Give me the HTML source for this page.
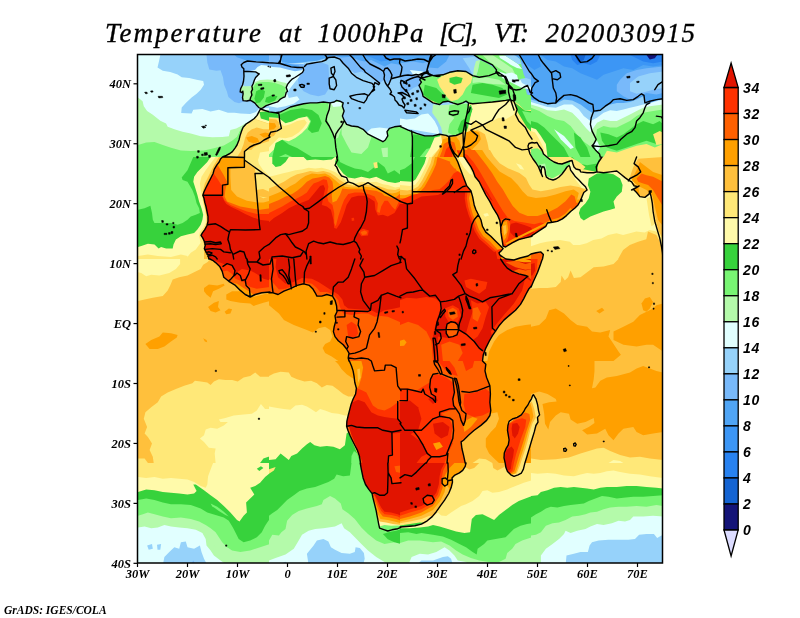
<!DOCTYPE html>
<html lang="en"><head><meta charset="utf-8"><title>Temperature at 1000hPa</title>
<style>html,body{margin:0;padding:0;background:#fff}body{width:800px;height:618px;overflow:hidden}svg{display:block;will-change:transform}.t{font-family:"Liberation Serif","DejaVu Serif",serif;font-style:italic;font-size:27px;fill:#000;stroke:#000;stroke-width:0.35px}.a{font-family:"Liberation Serif","DejaVu Serif",serif;font-style:italic;font-weight:bold;font-size:12.5px;fill:#000}.c{font-family:"Liberation Sans","DejaVu Sans",sans-serif;font-style:italic;font-weight:bold;font-size:14px;fill:#000;letter-spacing:0.8px}.g{font-family:"Liberation Serif","DejaVu Serif",serif;font-style:italic;font-weight:bold;font-size:11.5px;fill:#000}.b{fill:none;stroke:#000;stroke-width:1.4;stroke-linejoin:round;stroke-linecap:round}</style></head><body>
<svg width="800" height="618" viewBox="0 0 800 618">
<rect width="800" height="618" fill="#fff"/>
<text class="t" y="42"><tspan x="105" textLength="156" lengthAdjust="spacing">Temperature</tspan> <tspan x="279" textLength="22" lengthAdjust="spacing">at</tspan> <tspan x="317.5" textLength="106" lengthAdjust="spacing">1000hPa</tspan> <tspan x="439" textLength="38.5" lengthAdjust="spacing">[C],</tspan> <tspan x="494" textLength="35" lengthAdjust="spacing">VT:</tspan> <tspan x="545.5" textLength="149.5" lengthAdjust="spacing">2020030915</tspan></text>
<defs><clipPath id="mapclip"><rect x="137.5" y="54.5" width="525" height="508.5"/></clipPath></defs>
<g clip-path="url(#mapclip)">
<rect x="137.5" y="54.5" width="525" height="508.5" fill="#ffa000"/>
<defs><clipPath id="land"><path d="M260.4,109L258.9,111.9L257.1,115.4L254.3,118.5L250.2,121.3L246.1,124L243.1,127.3L241.5,131.3L240,135.9L239,140L237,145L235,148.1L232.4,151.6L229.9,153.5L226.3,155.3L223,156.7L222.5,157L220.5,159L219.2,162L216.9,164.9L214.2,169.4L213.1,173.5L210.6,178.5L208.1,183.4L206,187.5L204,191.7L202.8,195.3L204,198.3L204.8,202.4L206,206.5L207,211.5L208,216.4L208,221.4L207,225.5L204.8,229.6L202.4,232.9L201,235.4L202.7,237.9L204.3,241.2L205.3,245.3L204.3,248.6L206,251.9L208,255.2L208.9,259L209.9,259L212.6,260.3L215.6,262.6L219.7,266.4L222.2,271.4L223.8,277.2L228.8,281.3L235.4,285.4L240.3,290.4L245.2,294.5L250.2,297L255.2,294.5L261.8,292.8L270,292L269,292.8L273.1,292.8L278.1,294.5L283.9,291.2L290.4,288.7L297.1,285.4L303.6,283.8L309.4,285.4L312.7,288.7L315.2,292.8L316.9,296.1L321.8,296.1L326.8,294.5L332.5,296.1L335,300.3L336.6,306L337,311.8L335,315.9L335.8,320.9L334.2,326.7L333.4,331.6L335,336.6L338.3,340.7L343.2,344.8L346.6,349L349,353.1L348.2,358L349,361L349.4,361L351.5,366L353.1,370.9L354,375.9L354.8,382.5L356.4,388.2L355.6,394L353.1,399L351.2,403.9L349.9,408.9L348.2,415.5L346.9,421.2L346.6,426.2L347.9,430.3L349.9,435.3L352.3,440.2L354.8,445.2L357.3,450.1L359.4,455.9L360.6,463L360.2,463L361.4,469.6L363.1,477.9L365.5,484.5L368.8,489.4L372.1,493.5L372.9,497.7L374.6,504.3L376.2,510.9L377.1,515.8L377.9,519.9L378.7,524.1L379.6,528.2L384.5,529.8L387.8,531L391.9,529.8L397.7,528.7L401,527.4L400,527L406.6,526.5L414.9,525.7L421.4,524.1L427.2,520.8L432.2,516.6L436.3,511.7L440.4,505.9L444.6,500.1L448.7,493.5L451.1,487.8L452.5,482L452,477.9L454.4,475.4L459.4,472.9L462.7,470.4L465.2,466.3L466,463L465.2,463L463.5,455.1L461.9,448.5L461.1,441.9L463.5,440.2L468.5,435.3L474.2,430.3L480.9,425.4L486.6,420.4L489.9,415.5L490.8,410.5L489.9,402.3L490.4,394L489.9,385.8L486.6,377.5L485,370.9L485.8,364.3L482.5,361L482.5,361L483.3,354.7L485.8,348.1L489.1,341.5L492.4,335.7L495.7,330.8L499,325.8L503.9,320.1L509.7,315.1L515.5,310.2L520.5,304.4L523.8,298.6L526.7,292.8L529,288.7L531.2,286.2L531,287.1L533.5,281.3L537.6,272.2L540.1,265.6L541.7,260.7L542.5,259L542.5,259L543.4,254.4L540.9,251.9L536,252.7L531,254L528,256L520,258L514,260L505.9,259L502,256.5L501,256L499.5,254.4L499,252.7L501,251.1L503.1,248.6L500.6,246.1L495.7,241.2L490.8,236.2L485.8,232.1L482.5,226.3L480.9,219.7L478.4,214.8L475.9,209.8L474.2,204.9L472.6,196.6L470.9,190.8L466.8,185.9L465.2,181.8L462.7,175.2L460.2,168.6L457.8,162L455.3,157L454.9,157L452.5,152.4L450.3,147.8L449,142.5L448.7,136.7L446.2,135.4L439.6,134.2L433,135.9L424.8,135.9L416.5,133.4L408.2,130.1L400,126.3L401,126L394.4,126.8L389.4,128.4L387,131.7L387.8,135.9L385.3,140L382.9,141.7L377.9,139.2L372.9,136.7L368,134.2L363.1,129.3L358.1,126.8L351.5,126L346.6,124.3L344.1,120.2L342.4,116.1L344.1,111.1L342.4,106.2L343.2,102.9L339.9,101.2L336.6,100.4L334.2,102L330.1,102.9L323.4,102L316.9,102.9L310.2,102.9L303.6,103.7L297.1,105.3L290.4,107L285.5,109.5L280.6,111.9L275.6,112.8L269,111.9ZM435.5,55L433,56.7L429.7,61.6L428.1,66.6L426.4,72.3L423.1,74.5L420.6,78.1L419.8,79.8L421.4,82.2L419,85.5L420.6,88.8L422.3,93L423.1,96.3L428.1,99.6L433,102.9L439.6,104.5L442.9,102L447.9,101.2L452.8,102.9L457.8,104.5L462.7,102.9L466,101.2L468.5,102.9L468,107.8L466.8,114.4L465.2,121L464,127.6L463,132.6L456.1,135.5L449.5,136.2L450,143.5L451.5,148.3L454.4,153.2L458.1,157L460.7,152.4L462.4,148.3L463.2,146.1L464,150.7L464,157L464.4,157L467.6,162L470.9,166.9L473.4,171.9L475.1,176.8L479.2,181.8L482.5,188.4L485.8,195L489.9,201.6L493.2,208.2L497.4,214.8L499.8,220.5L500.6,226.3L501,232.9L502,239.5L503.1,246.1L505.6,247L512.2,242.8L518.8,239.5L525.4,237.9L532,236.2L531,236.2L536,232.9L540.9,229.6L545.9,226.3L547.5,223L552.5,222.2L557.4,221.4L562.4,218.9L566.5,215.6L570.6,211.5L574.7,208.2L578,204.9L580.5,200.7L582.1,196.6L583.8,192.5L587.1,190L585.5,186.7L582.1,183.4L578.9,180.1L575.5,176.8L573.1,173.5L570.6,170.2L569.8,166.9L569,165.5L567,167L565,170L562,174L559,177L556,179L553,180L549,178.8L546.5,177.2L545.5,174.5L545,170L544,167L542,166.8L541.2,170L541.5,174L542.5,176.5L540.5,172L538.5,167L536,163L533,159L530,154L528.5,149L528,146L529,143.5L532,142.5L534.5,143L537,142.5L539,146L542,150L543.5,154L547,157L550,159.5L554,162L558,163.5L562,164L566,162.5L570,161L572,160.5L573,164L574,167L576,169L580,170L580.5,171.9L587.1,172.7L593.7,172.7L597,171.9L603.6,172.7L610.2,171.9L616.8,171L620.9,174.3L625,177.6L628.4,180.1L631.6,181.8L634.1,185.9L638.2,186.7L633.3,189.2L636.6,192.5L639.9,196.6L644.9,197.4L649,194.1L649.8,191.7L651.1,196.6L652.3,203.2L653.1,211.5L654.8,221.4L657.2,229.6L659.7,237.9L661.4,246.1L662.5,252.7L663,259L670,262L670,48L435.5,48.0ZM533.4,394.7L535.9,398.8L537.5,404.4L538.6,410.9L539.6,414.9L537.5,417.4L538,422.2L535.9,425.5L534.3,431.9L531.8,440L529.4,448.1L527,456.2L525,462.7L523.4,469.1L521.3,473.2L518.1,474.8L514,476.4L510.8,474.8L507.5,471.6L505.9,467.5L505.1,462.7L504,457.8L504.3,453L505.9,448.9L508.3,444.9L509.1,440L508.3,435.2L507.5,430.3L507.9,425.5L509.1,421.4L512.4,419L517.2,417.4L521.3,414.9L523.7,411.7L525.3,408.5L527.8,405.2L529.4,402L531.5,398.8L532.6,395.5Z" clip-rule="nonzero"/></clipPath><clipPath id="t0"><rect x="138" y="55" width="132" height="102"/></clipPath><clipPath id="t1"><rect x="269" y="55" width="132" height="102"/></clipPath><clipPath id="t2"><rect x="400" y="55" width="132" height="102"/></clipPath><clipPath id="t3"><rect x="531" y="55" width="132" height="102"/></clipPath><clipPath id="t4"><rect x="138" y="157" width="132" height="102"/></clipPath><clipPath id="t5"><rect x="269" y="157" width="132" height="102"/></clipPath><clipPath id="t6"><rect x="400" y="157" width="132" height="102"/></clipPath><clipPath id="t7"><rect x="531" y="157" width="132" height="102"/></clipPath><clipPath id="t8"><rect x="138" y="259" width="132" height="102"/></clipPath><clipPath id="t9"><rect x="269" y="259" width="132" height="102"/></clipPath><clipPath id="t10"><rect x="400" y="259" width="132" height="102"/></clipPath><clipPath id="t11"><rect x="531" y="259" width="132" height="102"/></clipPath><clipPath id="t12"><rect x="138" y="361" width="132" height="102"/></clipPath><clipPath id="t13"><rect x="269" y="361" width="132" height="102"/></clipPath><clipPath id="t14"><rect x="400" y="361" width="132" height="102"/></clipPath><clipPath id="t15"><rect x="531" y="361" width="132" height="102"/></clipPath><clipPath id="t16"><rect x="138" y="463" width="132" height="102"/></clipPath><clipPath id="t17"><rect x="269" y="463" width="132" height="102"/></clipPath><clipPath id="t18"><rect x="400" y="463" width="132" height="102"/></clipPath><clipPath id="t19"><rect x="531" y="463" width="132" height="102"/></clipPath><clipPath id="t20"><rect x="455" y="150" width="132" height="102"/></clipPath><clipPath id="t21"><rect x="330" y="215" width="160" height="120"/></clipPath><clipPath id="t22"><rect x="0" y="0" width="800" height="618"/></clipPath><clipPath id="t23"><rect x="225" y="55" width="100" height="75"/></clipPath><clipPath id="t24"><rect x="480" y="385" width="80" height="100"/></clipPath><clipPath id="t25"><rect x="190" y="215" width="160" height="120"/></clipPath></defs>
<g clip-path="url(#t0)">
<rect x="137" y="54" width="134" height="104" fill="#e1ffff"/>
<polygon fill="#96d2fa" points="160.3,55 159.1,60.8 157.5,67.4 162.8,70.7 170.2,72 177.6,74.5 181.7,77.3 189.2,78.1 196.6,79.8 203.2,81.1 204,84.7 200.7,89.7 196.6,93.8 191.6,97.6 185.8,102.9 181.7,107.5 181.2,113.1 191.6,113.6 193.3,109.8 202.4,109.1 210.6,111.4 218.9,109.8 227.9,112.8 234.5,112.8 240.3,113.6 250.2,114.1 256,111.9 259.3,108.6 270,107.8 270,55.0"/>
<polygon fill="#78b9fa" points="206.5,55 207.3,62.4 209.3,69.5 216.4,70.7 220.5,70.2 223,77.3 224.1,84.7 226.8,91.3 228.4,97.1 234.5,102 239,103.2 244.4,101.2 244.4,55.0"/>
<polygon fill="#50a5f5" points="234.5,55 237,57.3 243.6,59.6 246.9,61.3 270,61.6 270,55.0"/>
<polygon fill="#b4faaa" points="138,97.6 142.6,101.2 143.8,106.2 147.1,111.1 152.8,114.7 160.3,120.7 166.1,123.5 167.7,126.8 175.1,129.6 182.6,131.7 190.8,133.4 200.7,136.2 212.2,137.2 222.2,137 228.8,136.2 230.4,130.1 236.2,128.4 241.1,126 245.2,123.5 251.9,120.2 256.8,115.2 260.9,110.3 270,110.3 270,157 138,157.0"/>
<polygon fill="#78f573" points="138,145 146.2,142.5 154.5,142.1 162.8,145 171,147.8 180.9,150.4 190.8,151.1 204,150.4 213.9,148.3 223.8,145.4 232.1,140.8 237,136.7 241.1,128.4 246.9,124.3 253.5,119.7 257.6,114.7 260.9,110.3 270,110.3 270,157 138,157.0"/>
<polygon fill="#37d23c" points="234.5,157 236.2,149.9 237.8,145 240,144.1 241.6,157.0"/>
<polygon fill="#37d23c" points="253.5,121 256,116.9 259.3,112.8 263.4,111.1 263.4,121.0"/>
</g>
<g clip-path="url(#t1)">
<rect x="268" y="54" width="134" height="104" fill="#96d2fa"/>
<polygon fill="#78b9fa" points="298.7,64.9 306.9,64.1 321.8,62.4 328.4,64.9 329.2,78.1 329.2,88 325.1,94.6 318.5,96.3 310.2,94.6 303.6,91.3 298.7,84.7 297.1,74.8"/>
<polygon fill="#78b9fa" points="323.4,55 401,55 401,76.5 394.4,78.1 387.8,83.1 384.5,79.8 379.6,83.1 374.6,79.8 368,74.8 361.4,71.5 354.8,73.2 348.2,68.2 341.6,63.3 338.3,58.3 328.4,57.5"/>
<polygon fill="#78b9fa" points="269,55 282.2,55 281.4,62.4 269,63.3"/>
<polygon fill="#50a5f5" points="278.9,55 401,55 401,64.9 391.1,63.3 384.5,66.6 377.9,63.3 371.3,60 364.7,61.6 358.1,60 351.5,56.7 341.6,57.5 335,55.8 325.1,58.3 316.9,60.8 308.6,61.6 302,62.4 292.1,63.3 282.2,62.4 280.6,58.3"/>
<polygon fill="#3c96f5" points="361.4,55 401,55 401,60.8 391.1,60 381.2,61.6 371.3,57.5"/>
<polygon fill="#e1ffff" points="284.7,71.5 290.4,69.9 298.7,71.5 299.5,76.5 295.4,81.4 290.4,88 287.1,93 288.8,97.9 297.1,96.3 299.5,99.6 293.8,103.7 285.5,106.2 277.2,107.8 269,106.2 269,102.9 278.9,99.6 285.5,92.1 287.1,86.4"/>
<polygon fill="#e1ffff" points="366.4,132.6 371.3,128.4 379.6,127.6 387.8,128.4 389.4,132.6 387,137.5 382.9,142.5 376.2,139.2 369.6,135.9"/>
<polygon fill="#e1ffff" points="269,63.3 303.6,63.3 304.5,69.9 295.4,78.1 287.1,87.2 285.5,92.1 275.6,100.4 269,102.9"/>
<polygon fill="#96d2fa" points="269,63.3 282.2,63.3 285.5,68.2 278.9,71.5 269,70.7"/>
<polygon fill="#78b9fa" points="278.9,62.4 303.6,64.1 304.5,67.4 293.8,66.6 283.9,65.7"/>
<polygon fill="#b4faaa" points="269,78.1 275.6,76.5 282.2,79.8 285.5,86.4 284.7,93 275.6,100.4 269,102.9"/>
<polygon fill="#78f573" points="269,81.4 275.6,80.6 281.4,83.9 283,91.3 275.6,98.7 269,101.2"/>
<polygon fill="#37d23c" points="269,93 273.9,92.1 277.2,95.4 273.9,98.7 269,99.6"/>
</g>
<g clip-path="url(#t2)">
<rect x="399" y="54" width="134" height="104" fill="#96d2fa"/>
<polygon fill="#e1ffff" points="400,118.5 406.6,119.4 414.9,118.5 421.4,114.4 428.1,113.6 431.4,116.9 434.6,121 437.9,127.6 439.6,134.2 400,127.6"/>
<polygon fill="#78b9fa" points="400,71.5 409.9,73.2 419.8,78.1 419,85.5 413.2,88 406.6,93 400,96.3"/>
<polygon fill="#b4faaa" points="433,104.5 439.6,105.3 449.5,104.5 466,102.9 469.3,104.5 469.3,134.2 442.9,135.9 441.2,127.6 437.1,119.4 432.2,112.8"/>
<polygon fill="#78f573" points="449.5,105.3 467.6,103.7 468.5,134.2 454.4,135.9 447.9,132.6 449.5,124.3 454.4,117.7 447.9,114.4"/>
<polygon fill="#37d23c" points="461.1,121 466,117.7 468.5,121 465.2,132.6 459.4,134.2 457.8,129.3"/>
<polygon fill="#ffe878" points="522.1,137.5 532,137.5 532,157 522.1,157.0"/>
<polygon fill="#ffa000" points="447.9,138.3 463.5,134.2 465.2,157 449.5,157.0"/>
<polygon fill="#78b9fa" points="400,55 435.5,55 429.7,61.6 427.2,71.5 420.6,77.3 409.9,73.2 400,71.5"/>
<polygon fill="#50a5f5" points="400,55 435.5,55 431.4,60 423.1,63.3 413.2,61.6 400,63.3"/>
<polygon fill="#e1ffff" points="409.9,69.9 423.1,71.5 421.4,76.5 413.2,74.8"/>
</g>
<g clip-path="url(#t3)">
<polygon fill="#ffe878" points="529.4,137.5 540.9,137.5 540.9,149.9 529.4,149.9"/>
<polygon fill="#78f573" points="529.4,149.1 537.6,148.3 545.9,154 549.1,157 529.4,157.0"/>
</g>
<g clip-path="url(#t4)">
<rect x="137" y="156" width="134" height="104" fill="#37d23c"/>
<polygon fill="#78f573" points="138,157 193.3,157 187.5,170.2 181.7,177.6 182.6,180.1 187.5,181.8 192.4,190 194.9,196.6 196.6,203.2 199.1,208.2 199.9,213.1 195.8,214.8 190.8,216.4 187.5,219.7 182.6,223 177.6,224.7 171,223 161.1,223 154.5,223 152.8,219.7 152,213.1 150.4,205.7 144.6,208.2 138,209.8"/>
<polygon fill="#fffaaa" points="210.6,157 207.3,162 202.4,166.9 197.4,171.9 194.1,176.8 193.3,181.8 194.9,186.7 197.4,195 199.1,201.6 201.5,208.2 203.2,214.8 202.4,219.7 200.7,224.7 197.4,229.6 194.1,232.9 187.5,234.6 180.9,236.2 175.9,239.5 173.5,244.5 172.7,248.6 166.1,248.6 161.1,247 158.6,248.6 154.5,244.5 147.9,243.7 141.3,246.1 138,247 138,259 270,259 270,157.0"/>
<polygon fill="#ffe878" points="215.6,157 210.6,163.6 205.7,170.2 201.5,176.8 199.9,183.4 200.7,190 202.4,196.6 203.2,203.2 204.8,209.8 206,216.4 205.7,223 203.2,228 199.9,232.1 199.1,236.2 200.7,242.8 195.8,249.4 190.8,252.7 185.8,259 270,259 270,157.0"/>
<polygon fill="#ffe878" points="138,256 147.9,254.4 157.8,256 171,256.9 180.9,254.4 187.5,256 187.5,259 138,259.0"/>
<polygon fill="#ffc03c" points="218.9,157 213.9,165.3 208.9,175.2 204.8,183.4 203.2,190 202.7,196.6 204,203.2 205.7,211.5 207,219.7 206.3,224.7 204,229.6 201.5,234.6 203.2,239.5 204,246.1 204,259 270,259 270,157.0"/>
</g>
<g clip-path="url(#t6)">
<rect x="399" y="156" width="134" height="104" fill="#ffe878"/>
<polygon fill="#fffaaa" points="457.8,157 464.4,157 469.3,166.9 472.6,175.2 469.3,173.5 463.5,166.9"/>
<polygon fill="#fffaaa" points="483.3,213.9 487.4,213.1 489.1,215.6 485,216.7"/>
</g>
<g clip-path="url(#t7)">
<rect x="530" y="156" width="134" height="104" fill="#fffaaa"/>
<polygon fill="#37d23c" points="588.8,178.5 597,173.5 605.2,172.7 613.5,174.3 620.1,178.5 622.6,185.1 621.8,191.7 616.8,196.6 613.5,201.6 615.1,208.2 610.2,209.8 603.6,211.5 597,213.9 590.4,216.4 583.8,220.5 580.5,218.1 578.9,213.1 580.5,208.2 585.5,203.2 588.8,198.3 590.4,191.7 587.9,185.1"/>
<polygon fill="#78f573" points="531,157 570.6,157 569.8,165.3 564,171.9 552.5,178.5 544.2,175.2 537.6,170.2 531,163.6"/>
<polygon fill="#b4faaa" points="540.1,164.4 545,163.6 546.7,170.2 543.4,173.5 540.9,169.4"/>
<polygon fill="#ffe878" points="646.5,198.3 651.5,196.6 653.9,211.5 656.4,223 651.5,226.3 649,214.8"/>
<polygon fill="#ffe878" points="530,246.6 539.9,243.3 546.7,241.7 559.9,240 569.9,241.7 573.2,245 579.8,245 586.6,243.3 593.2,240 601.5,238.4 608.2,234.9 616.5,233.3 623.1,234.9 629.8,233.3 636.4,231.6 644.7,232.4 649.6,230 656.4,231.6 663,229.6 663,259 530,259.0"/>
<polygon fill="#ffc03c" points="618.1,259 623.1,249.9 629.8,245 638.1,241.7 646.3,239.2 648,231.6 656.4,234.9 661.4,245 663,246.1 663,259.0"/>
</g>
<g clip-path="url(#t8)">
<rect x="137" y="258" width="134" height="104" fill="#ffc03c"/>
<polygon fill="#ffe878" points="138,259 210.6,259 207.3,262.3 203.2,264.8 200.7,268.9 194.1,272.2 187.5,275.5 179.2,277.2 172.7,279.6 170.2,285.4 167.7,290.4 162.8,296.1 152.8,297.8 144.6,299.4 138,301.1"/>
<polygon fill="#fffaaa" points="138,259 180.1,259 180.1,264 175.9,268.9 169.3,273 159.4,275.5 151.2,274.7 146.2,276.3 141.3,273 138,272.2"/>
<polygon fill="#ffa000" points="204,287.9 208.9,284.6 217.2,285.4 223.8,283.8 224.6,285.4 218.9,288.7 213.1,291.2 210.6,297.8 206.5,294.5 204,291.2"/>
<polygon fill="#ffa000" points="226.3,294.5 232.1,291.2 240.3,291.2 246.9,297 253.5,297 270,292.8 270,301.1 263.4,302.7 253.5,306 250.2,303.6 240.3,302.7 230.4,301.1 226.3,299.4"/>
<polygon fill="#ffa000" points="208.1,306.9 213.9,302.7 218.9,301.1 218,306.9 220.5,310.2 215.6,312.6 210.6,311.0"/>
<polygon fill="#ffa000" points="224.6,311.8 228.8,308.5 232.1,309.3 230.4,313.5 226.3,314.3"/>
<polygon fill="#ffa000" points="145.4,344 151.2,339.9 159.4,336.6 162.8,332.4 171,333.3 177.6,334.9 176.8,337.4 171,341.5 164.4,346.5 157.8,349 149.6,349.0"/>
<polygon fill="#ffa000" points="203.2,338.2 206.5,339.9 207.3,342.3 204.8,341.5"/>
</g>
<g clip-path="url(#t9)">
<rect x="268" y="258" width="134" height="104" fill="#ffa000"/>
<polygon fill="#ffc03c" points="269,305.2 278.9,313.5 283.9,320.1 293.8,325 306.9,330 312.7,332.4 318.5,328.3 325.1,326.7 330.1,330 332.5,336.6 330.1,341.5 325.1,344 322.6,348.1 325.1,353.1 331.7,356.4 338.3,361 269,361.0"/>
</g>
<g clip-path="url(#t10)">
<rect x="399" y="258" width="134" height="104" fill="#ffc03c"/>
<polygon fill="#ffa000" points="487.4,361 489.1,351.4 494.1,341.5 499,334.9 507.2,330 515.5,326.7 525.4,325 532,324.2 532,361.0"/>
</g>
<g clip-path="url(#t11)">
<rect x="530" y="258" width="134" height="104" fill="#ffc03c"/>
<polygon fill="#ffe878" points="531,259 618.5,259 613.5,264 603.6,266.4 593.7,267.3 587.1,272.2 580.5,277.2 573.9,278 570.6,270.6 568.1,277.2 564.8,280.5 561.5,275.5 560.7,282.1 555.8,287.1 547.5,287.9 539.2,287.9 531,288.7"/>
<polygon fill="#ffa000" points="531,326.7 539.2,325 545.9,318.4 549.1,310.2 555.8,308.5 564,313.5 570.6,320.1 577.2,325 587.1,326.7 592,331.6 600.3,332.4 610.2,330 608.5,336.6 611.9,341.5 618.5,351.4 620.9,354.7 613.5,361 531,361.0"/>
<polygon fill="#ffa000" points="613.5,331.6 623.4,326.7 633.3,321.7 639.9,315.1 646.5,311.8 653.1,308.5 656.4,305.2 663,303.6 663,351.4 653.1,344.8 646.5,344.8 636.6,346.5 623.4,344.8 613.5,339.9"/>
<polygon fill="#ffa000" points="596.2,311 602,307.7 604.4,310.2 599.5,313.5"/>
<polygon fill="#ffa000" points="641.5,303.6 644.9,298.6 649.8,297 653.1,301.9 649.8,308.5 646.5,311.8 643.2,310.2"/>
</g>
<g clip-path="url(#t12)">
<rect x="137" y="360" width="134" height="104" fill="#ffc03c"/>
<polygon fill="#ffe878" points="153.7,463 152.8,456.7 149.6,450.1 152,443.5 147.9,436.9 144.6,433.6 147.1,427 143.8,418.8 145.4,412.2 151.2,407.2 157.8,402.3 161.1,396.5 167.7,392.4 175.9,389.1 184.2,385.8 192.4,383.3 194.9,380.8 200.7,381.6 207.3,382.5 210.6,384.9 213.9,381.6 218.9,379.2 225.4,380 232.1,380 237.8,381.6 243.6,377.5 250.2,375.9 255.2,372.6 260.1,376.7 270,376.7 270,463.0"/>
<polygon fill="#ffe878" points="138,458.4 144.6,458.4 147.9,463 138,463.0"/>
<polygon fill="#fffaaa" points="215.6,463 214.7,453.4 215.6,448.5 208.9,447.7 204,441.9 199.9,438.6 204,435.3 205.7,429.5 210.6,427.8 217.2,428.7 223.8,425.4 227.9,422.1 220.5,422.1 218.9,419.6 225.4,417.9 233.7,415.5 243.6,414.6 251.9,413.8 256.8,410.5 260.9,403.9 265.1,408.9 270,408.9 270,463.0"/>
<polygon fill="#37d23c" points="260.1,463 263.4,458.4 268.4,456.7 270,456.7 270,463.0"/>
</g>
<g clip-path="url(#t13)">
<rect x="268" y="360" width="134" height="104" fill="#ffc03c"/>
<polygon fill="#ffe878" points="269,375.9 273.9,373.4 280.6,371.7 288.8,372.6 291.3,376.7 297.1,379.2 304.5,381.6 311.1,380.8 316.9,383.3 321.8,387.4 326.8,384.9 332.5,385.8 338.3,389.9 343.2,394 348.2,396.5 356.4,396.5 356.4,463 269,463.0"/>
<polygon fill="#fffaaa" points="269,406.4 277.2,408 283.9,408.9 290.4,409.7 295.4,405.6 302,404.7 306.9,406.4 311.1,408.9 316,412.2 320.1,408.9 325.1,410.5 331.7,413 338.3,413.8 344.9,415.5 351.5,415.5 351.5,463 269,463.0"/>
<polygon fill="#37d23c" points="269,460 275.6,459.2 280.6,453.4 284.7,456.7 288.8,460 291.3,455.9 297.1,453.4 302,448.5 306.9,444.3 310.2,441.9 314.4,445.2 320.1,446.8 326.8,446 333.4,446.8 339.9,449.3 344.9,445.2 346.6,433.6 348.2,432 361.4,463 269,463.0"/>
<polygon fill="#78f573" points="351.2,463 351.5,455.9 354,451 357.3,453.4 359.8,463.0"/>
<polygon fill="#ffa000" points="335,361 338.3,364.3 341.6,369.3 346.6,374.2 351.5,377.5 354.8,379.2 356.4,361.0"/>
</g>
<g clip-path="url(#t14)">
<rect x="399" y="360" width="134" height="104" fill="#ffa000"/>
<polygon fill="#ffc03c" points="489.9,413.8 497.4,412.2 499,418.8 495.7,427 490.8,432 485.8,438.6 485.8,446.8 489.1,453.4 494.1,458.4 499,463 461.1,463 459.4,441.9 474.2,430.3 486.6,420.4"/>
<polygon fill="#ffe878" points="472.6,463 479.2,458.4 485.8,459.2 492.4,463.0"/>
</g>
<g clip-path="url(#t15)">
<rect x="530" y="360" width="134" height="104" fill="#ffa000"/>
<polygon fill="#ffc03c" points="594.5,361 663,361 663,372.6 656.4,370.9 649.8,368.4 643.2,366 636.6,368.4 630,372.6 623.4,374.2 616.8,375.9 606.9,377.5 600.3,380.8 595.4,387.4 592,388.2 593.7,379.2 594.5,370.9"/>
<polygon fill="#ffc03c" points="531,394 539.2,391.5 547.5,394 555.8,399 556.6,401.4 549.1,402.3 542.5,403.9 544.2,413.8 545,423.7 548.3,429.5 550,422.1 555.8,415.5 560.7,412.2 569,413.8 570.6,419.6 577.2,423.7 585.5,422.1 593.7,417.9 594.5,422.9 588.8,427 582.1,430.3 587.1,434.4 597,433.6 605.2,428.7 608.5,435.3 613.5,440.2 618.5,433.6 623.4,428.7 633.3,427 636.6,432 643.2,435.3 653.1,433.6 663,432 663,463 531,463.0"/>
<polygon fill="#ffe878" points="531,458.4 540.9,460 555.8,459.2 569,457.6 580.5,453.4 588.8,451 597,448.5 603.6,447.7 610.2,451 620.1,455.1 630,457.6 639.9,456.7 649.8,458.4 663,460 663,463 531,463.0"/>
<polygon fill="#fffaaa" points="608.5,463 613.5,460 620.1,460.9 623.4,463.0"/>
</g>
<g clip-path="url(#t16)">
<rect x="137" y="462" width="134" height="104" fill="#fffaaa"/>
<polygon fill="#ffe878" points="138,463 213.1,463 210.6,469.6 208.1,476.2 207.3,484.5 205.7,487.8 200.7,486.1 194.1,482 187.5,479.5 179.2,478.7 171,477.9 162.8,478.7 154.5,477 146.2,477.9 138,477.0"/>
<polygon fill="#37d23c" points="138,491.9 146.2,489.4 154.5,490.2 162.8,491.9 171,492.7 179.2,493.5 187.5,494.4 194.1,493.5 196.6,491.1 193.3,484.5 195.8,484.5 204,490.2 210.6,495.2 217.2,500.1 223.8,505.9 230.4,512.5 237,519.9 239.5,521.6 243.6,515.8 246.9,512.5 246.1,502.6 250.2,498.5 254.3,494.4 250.2,487.8 255.2,486.1 260.1,482.8 265.1,477 270,472.9 270,565 138,565.0"/>
<polygon fill="#37d23c" points="256.8,468.8 260.9,466.3 263.4,468 259.3,470.9"/>
<polygon fill="#78f573" points="138,500.1 146.2,498.5 154.5,500.1 162.8,502.6 171,504.3 180.9,504.3 190.8,505.1 200.7,508.4 207.3,512.5 215.6,515 223.8,517.5 228.8,520.8 232.9,527.4 236.2,534 238.7,538.9 243.6,542.2 250.2,540.6 256.8,537.3 261.8,532.3 265.1,525.7 268.4,520.8 270,519.1 270,565 138,565.0"/>
<polygon fill="#78f573" points="210.6,503.4 217.2,506.7 223.8,511.7 228.8,516.6 225.4,515 218.9,510.9 212.2,506.2"/>
<polygon fill="#b4faaa" points="138,515.8 142.9,514.2 147.9,512.5 154.5,514.2 162.8,516.6 171,518.3 180.9,517.5 190.8,519.1 199.1,521.6 205.7,524.9 210.6,528.2 215.6,532.3 218.9,537.3 222.2,542.2 227.1,547.2 232.1,550.5 240.3,552.1 250.2,550.5 260.1,547.2 270,543.9 270,565 138,565.0"/>
<polygon fill="#e1ffff" points="138,527.4 144.6,526.5 151.2,528.2 157.8,527.4 164.4,524.9 171,526.5 179.2,527.4 187.5,528.2 195.8,529.8 202.4,533.1 205.7,538.9 206.5,545.5 210.6,550.5 213.9,555.4 220.5,560.4 227.1,565 138,565.0"/>
<polygon fill="#b4faaa" points="213.1,545.5 215.6,546.3 215.6,549.7 213.6,548.8"/>
<polygon fill="#96d2fa" points="162.8,565 164.4,557.1 169.3,552.1 174.3,547.2 179.2,548.8 180.9,542.2 185.8,541.4 187.5,547.2 194.1,548.8 199.9,545.5 201.5,552.1 204,558.7 207.3,565.0"/>
<polygon fill="#96d2fa" points="147.1,545.5 152,543.9 152.8,548.8 148.7,549.7"/>
<polygon fill="#96d2fa" points="157,544.7 161.1,543.9 160.3,549.7 157.5,549.7"/>
<polygon fill="#78b9fa" points="190.8,565 193.3,560.4 195.8,565.0"/>
</g>
<g clip-path="url(#t17)">
<rect x="268" y="462" width="134" height="104" fill="#78f573"/>
<polygon fill="#37d23c" points="269,463 351.5,463 350.7,469.6 349.9,475.4 343.2,476.2 336.6,474.6 334.2,478.7 328.4,482 321.8,484.5 315.2,486.9 306.9,488.6 299.5,491.1 293.8,495.2 287.1,500.1 282.2,505.1 277.2,510 272.3,513.3 269,515.8"/>
<polygon fill="#ffe878" points="269,469.3 275.6,467.1 273.9,470.4 269,473.7"/>
<polygon fill="#b4faaa" points="269,540.6 272.3,534.8 278.9,535.6 281.4,532.3 285.5,529 287.1,520.8 292.1,515 298.7,510.9 306.9,508.4 316.9,505.9 321.8,504.3 323.4,500.1 330.1,496 335,498.5 340.8,503.4 342.4,509.2 348.2,513.3 354.8,519.1 361.4,527.4 368,534 376.2,540.6 384.5,543.9 394.4,542.2 401,539.7 401,565 269,565.0"/>
<polygon fill="#e1ffff" points="269,560.4 275.6,557.9 285.5,554.6 293.8,548.8 298.7,540.6 302,534.8 308.6,530.7 315.2,529 323.4,528.2 335,526.5 341.6,523.2 344.1,528.2 349.9,532.3 354.8,537.3 361.4,543.9 368,550.5 376.2,557.1 384.5,562 386.1,565 269,565.0"/>
<polygon fill="#96d2fa" points="306.9,553.8 313.6,545.5 316.9,540.6 323.4,538.9 328.4,541.4 330.9,547.2 335,549.7 341.6,553 349.9,553.8 354.8,552.1 355.6,547.2 359.8,548 363.9,553 364.7,558.7 363.1,565 308.6,565.0"/>
<polygon fill="#96d2fa" points="278.9,565 285.5,561.7 288.8,565.0"/>
<polygon fill="#37d23c" points="382.9,534 389.4,532 396.1,530.7 401,529.3 401,543.9 394.4,542.2 387.8,539.3"/>
</g>
<g clip-path="url(#t18)">
<rect x="399" y="462" width="134" height="104" fill="#ffe878"/>
<polygon fill="#ffc03c" points="466,463 465.2,467.1 469.3,469.6 474.2,468 479.2,463.0"/>
<polygon fill="#ffc03c" points="492.4,463 493.2,468 497.4,470.4 502.3,468 505.6,466.3 505.6,463.0"/>
<polygon fill="#fffaaa" points="437.9,512.5 441.2,515.5 446.2,516.1 451.1,512.5 456.1,509.2 461.1,505.9 466,504.3 472.6,501 479.2,496 482.5,491.1 487.4,490.2 492.4,492.7 499,491.9 507.2,489.4 515.5,486.1 523.8,482.8 532,480.3 532,565 400,565 400,525.7 424.8,524.1"/>
<polygon fill="#37d23c" points="400,528.2 409.9,528.2 419.8,527.4 428.1,526.5 433,524.9 439.6,526.5 447.9,529 456.1,531.5 464.4,533.1 470.1,532.3 470.9,525.7 471.8,519.1 475.9,515 482.5,514.2 489.1,517.5 494.1,519.9 499,515 505.6,510 512.2,505.1 518.8,501 525.4,498.5 532,496 532,565 400,565.0"/>
<polygon fill="#78f573" points="400,533.1 408.2,532.3 416.5,534 421.4,533.1 433,534.8 442.9,536.4 451.1,539.7 459.4,543.9 466,547.2 472.6,552.1 476.7,554.6 477.6,548.8 484.1,543.9 487.4,540.6 495.7,538.9 505.6,537.3 508.9,534 513.9,529 520.5,525.7 527,524.1 532,523.2 532,565 400,565.0"/>
<polygon fill="#b4faaa" points="400,543 408.2,540.6 419.8,540.6 433,542.2 441.2,541.4 449.5,545.5 456.1,550.5 462.7,554.6 470.9,557.9 479.2,560.4 489.1,562 499,562 505.6,558.7 507.2,553 512.2,548.8 515.5,543.9 522.1,540.6 532,537.3 532,565 400,565.0"/>
<polygon fill="#e1ffff" points="408.2,565 411.6,557.1 419.8,553.8 428.1,554.6 436.3,552.1 444.6,547.2 449.5,550.5 454.4,555.4 457.8,560.4 466,562 469.3,565.0"/>
<polygon fill="#96d2fa" points="416.5,565 421.4,560.4 433,560.4 442.9,557.1 447.9,556.3 451.1,558.7 452.8,565.0"/>
</g>
<g clip-path="url(#t19)">
<rect x="530" y="462" width="134" height="104" fill="#ffe878"/>
<polygon fill="#fffaaa" points="531,472.9 537.6,473.7 547.5,472.9 555.8,473.7 564,475.4 573.9,476.2 580.5,474.6 587.1,472.9 593.7,473.7 600.3,472.9 606.9,471.3 613.5,470.4 620.1,472.1 630,473.7 639.9,474.6 649.8,476.2 663,477.9 663,565 531,565.0"/>
<polygon fill="#37d23c" points="531,496 537.6,495.2 540.9,491.9 547.5,490.2 554.1,487.8 560.7,486.9 567.3,487.8 573.9,486.9 580.5,487.8 587.1,488.6 593.7,489.4 600.3,487.8 606.9,486.9 616.8,486.9 626.7,486.1 636.6,486.1 646.5,486.9 656.4,487.8 663,488.6 663,565 531,565.0"/>
<polygon fill="#78f573" points="531,517.5 536,514.2 540.9,511.7 545.9,508.4 550.8,506.7 557.4,507.6 564,505.9 570.6,505.1 577.2,504.3 583.8,503.4 588.8,501 595.4,498.5 602,496 608.5,496.8 616.8,498.5 623.4,497.7 633.3,496.8 643.2,496.8 653.1,496 663,495.2 663,565 531,565.0"/>
<polygon fill="#b4faaa" points="531,535.6 536,534.8 540.9,532.3 545.9,525.7 552.5,523.2 559,522.4 565.6,519.9 572.2,516.6 578.9,515.8 585.5,514.2 590.4,512.5 597,511.7 603.6,509.2 610.2,507.6 618.5,506.7 626.7,506.7 636.6,505.9 646.5,506.7 656.4,505.1 663,505.9 663,565 531,565.0"/>
<polygon fill="#e1ffff" points="540.9,565 540.9,555.4 545.9,548.8 552.5,543.9 559,538.9 564,534 565.6,530.7 570.6,533.1 577.2,530.7 585.5,529 590.4,526.5 597,524.1 603.6,524.9 611.9,523.2 618.5,520.8 625,521.6 630,519.9 633.3,516.6 643.2,516.6 653.1,515.8 663,516.6 663,565.0"/>
<polygon fill="#96d2fa" points="565.6,565 566.5,555.4 573.9,553.8 580.5,552.1 587.9,552.1 589.6,545.5 592,542.2 598.6,540.6 608.5,539.7 618.5,539.7 628.4,539.7 635,538.9 639.1,534.8 646.5,534 653.9,534 657.2,538.1 661.4,535.6 663,535.6 663,565.0"/>
</g>
<g clip-path="url(#t23)">
<polygon fill="#e1ffff" points="280,63.5 275,63.1 268.8,62.8 262.5,62.2 256.2,61.9 250,61.2 247.5,61 243.8,62.5 241.2,64.8 241.9,66.9 243.8,68.8 243.8,71.9 244,76.2 243.5,81.2 242.5,85 240.6,88.8 240.2,91.9 241.9,92.5 242.8,91.2 243.1,93.8 242.5,97.5 243.1,100.6 246.9,101 250,100.2 251.9,101.2 255,103.1 256.9,105.6 258.8,107.5 260.6,108.5 262.5,108.1 266.2,105.6 271.2,103.8 277.5,101.9 280,99.4 283.1,97.5 285,96.9 286.2,92.5 287.5,91.2 286.2,87.5 287.5,84.4 290,81.2 292.5,78.8 295,77.5 298.8,75 302.5,72.5 303.8,70 303.1,67.5 297.5,67.5 291.2,66.9 285,65.0"/>
<polygon fill="#78b9fa" points="241.2,64.8 247.5,61 256.2,61.9 268.8,62.8 280,63.5 285,65 291.2,66.9 303.1,67.5 302.5,70 295,71.2 287.5,69.4 280,67.5 272.5,66.9 266.2,65.6 261.2,65 257.5,66.9 255,70 250,71.2 243.8,71.2 243.8,68.8 241.9,66.9"/>
<polygon fill="#96d2fa" points="243.8,71.9 255,71.9 258.1,74.4 255,78.1 253.1,83.8 251.9,86.2 245,86.9 242.5,85 243.5,81.2 244,76.2"/>
<polygon fill="#50a5f5" points="280,63.5 285,65 291.2,66.9 300,67.5 298.8,65.6 292.5,64.4 285,62.8"/>
<polygon fill="#b4faaa" points="242.5,86.2 251.9,86.2 255,81.9 260,80 267.5,79.4 275,80 281.2,81.9 286.2,83.1 287.5,85 286.2,87.5 287.5,91.2 286.2,92.5 285,96.9 280,99.4 277.5,101.9 266.2,105.6 260.6,108.5 255,103.1 250,100.2 243.1,100.6 242.5,97.5 243.1,93.8 240.2,91.9 240.6,88.8"/>
<polygon fill="#78f573" points="251.9,88.8 256.2,83.1 262.5,81.9 268.8,81.9 275,83.1 281.2,85 285,86.9 285.6,91.2 283.8,96.2 278.8,99.4 275,101.2 266.2,105 261.2,107.5 256.9,105 253.8,102.5 250.6,99.8 251.2,95.0"/>
<polygon fill="#37d23c" points="256.2,91.2 261.2,88.8 265,91.2 263.8,97.5 260,102.5 256.2,103.1 254.4,98.8"/>
<polygon fill="#37d23c" points="266.2,97.5 272.5,95 277.5,96.2 275,100.6 268.8,103.1 265,101.9"/>
</g>
<g clip-path="url(#land)">
<g clip-path="url(#t0)">
<rect x="137" y="54" width="134" height="104" fill="#ffc03c"/>
<polygon fill="#ffe878" points="243.6,126 253.5,118.5 260.1,121 270,124.3 270,129.3 263.4,129.3 256.8,127.6 251.9,129.3 247.7,132.6 245.2,137.5 243.6,144.1 241.1,150.7 237,157 227.1,157 237,144.1 240.3,132.6"/>
<polygon fill="#fffaaa" points="253.5,118.5 260.1,120.7 270,124 270,111.1 260.1,109.5"/>
<polygon fill="#37d23c" points="259.3,111.9 260.9,118.5 270,121.3 270,111.1"/>
<polygon fill="#ffa000" points="246.1,137.5 251.9,135.9 257.6,138.3 259.3,141.7 253.5,143.3 248.6,141.7"/>
<polygon fill="#ffa000" points="259.3,134.2 265.1,132.6 270,133.4 270,137.5 263.4,137.5"/>
<polygon fill="#ffe878" points="253.5,147.4 260.1,144.1 270,140.8 270,157 245.2,157.0"/>
<polygon fill="#ffe878" points="245,150 270,150 270,157 245,157.0"/>
<polygon fill="#fffaaa" points="260,152.5 270,151 270,157 259,157.0"/>
</g>
<g clip-path="url(#t1)">
<rect x="268" y="54" width="134" height="104" fill="#78f573"/>
<polygon fill="#37d23c" points="278.9,114.9 290.4,110 302,108.3 311.9,110 318.5,114.9 321.8,123.2 318.5,131.4 311.9,133.1 307.8,129.3 311.1,121 307.8,116.4 298.7,118 292.1,121.3 285.5,123.5 278.9,118.5"/>
<polygon fill="#fffaaa" points="269,116.6 278.9,118.2 285.5,123.2 292.1,121.5 298.7,118.2 306.9,116.6 310.2,121.5 306.9,128.1 302,133.1 295.4,138 288.8,141.3 282.2,139.7 277.2,143 273.9,149.6 269,154.5"/>
<polygon fill="#ffe878" points="269,119.4 277.2,121 283.9,126 290.4,124.3 297.1,121 304.5,119.4 306.9,122.7 303.6,127.6 298.7,132.6 292.1,136.7 285.5,138.3 278.9,137.5 273.9,142.5 269,147.4"/>
<polygon fill="#ffc03c" points="269,124.3 273.9,126 277.2,130.9 273.9,135.9 269,137.5"/>
<polygon fill="#37d23c" points="269,112.4 277.2,113.3 278.4,117.7 269,117.4"/>
<polygon fill="#ffe878" points="269,117.4 278.2,117.9 279.7,121 281.4,128.4 277.2,130.9 269,132.6"/>
<polygon fill="#ffc03c" points="269,118.7 276.4,119.4 278.6,122.3 279.9,128 276.9,130.1 269,131.7"/>
<polygon fill="#ffa000" points="269,122.7 274.8,123.3 276.4,126.5 273.9,129.3 269,130.1"/>
<polygon fill="#37d23c" points="275.6,143 282.2,139.7 288.8,144.6 297.1,147.9 305.3,152.9 311.9,157 292.1,157 285.5,154 278.9,157 272.3,157.0"/>
<polygon fill="#b4faaa" points="328.4,102 343.2,101.7 344.9,121 341.6,127.6 338.3,137.5 335,139.2 330.1,127.6 326.8,117.7 328.4,109.5"/>
<polygon fill="#e1ffff" points="330.1,102 341.6,101.7 340.8,106.2 333.4,107.0"/>
<polygon fill="#b4faaa" points="344.9,121 351.5,126 363.1,129.3 368,134.2 371.3,137.5 368,147.4 361.4,154 351.5,152.4 346.6,144.1 341.6,134.2 341.6,127.6"/>
<polygon fill="#b4faaa" points="381.2,148.3 387.8,147.4 387.8,157 382.9,157.0"/>
</g>
<g clip-path="url(#t2)">
<rect x="399" y="54" width="134" height="104" fill="#ffe878"/>
<polygon fill="#78f573" points="400,55 532,55 532,109.5 525.4,111.1 518.8,104.5 513.9,101.2 505.6,100.4 499,101.2 492.4,102 482.5,102.9 472.6,103.7 468.5,102.9 466,101.2 457.8,104.5 439.6,104.5 423.1,96.3 416.5,88 400,88.0"/>
<polygon fill="#ffe878" points="437.1,79.8 442.9,75.6 449.5,73.2 457.8,71.5 466,72.3 472.6,76.5 470.9,83.1 466,88 462.7,94.6 457.8,99.6 451.1,101.2 446.2,96.3 442.9,91.3 439.6,86.4"/>
<polygon fill="#37d23c" points="449.5,78.1 456.1,76.5 462.7,78.1 461.1,83.1 454.4,84.7 449.5,82.2"/>
<polygon fill="#37d23c" points="424.8,84.7 436.3,88 442.9,94.6 449.5,102 439.6,103.7 429.7,99.6 423.1,94.6"/>
<polygon fill="#37d23c" points="472.6,84.7 482.5,83.1 492.4,84.7 502.3,88 507.2,94.6 499,97.9 489.1,96.3 479.2,94.6 470.9,93.0"/>
<polygon fill="#b4faaa" points="472.6,78.1 485.8,77.3 499,79.8 505.6,84.7 492.4,83.9 479.2,82.2 472.6,83.1"/>
<polygon fill="#b4faaa" points="492.4,55 502.3,61.6 512.2,68.2 515.5,74.8 507.2,73.2 499,68.2 489.1,61.6 482.5,55.0"/>
<polygon fill="#78b9fa" points="520.5,55 532,55 532,95.4 527,94.6 525.4,88 527,81.4 523.8,74.8 521.3,64.9"/>
<polygon fill="#e1ffff" points="499,71.5 508.9,74.8 518.8,79.8 528.7,81.4 532,83.1 532,89.7 522.1,88 512.2,83.1 502.3,78.1"/>
<polygon fill="#ffc03c" points="466,132.6 477.6,130.1 485,134.2 487.4,142.5 489.1,150.7 489.9,157 463.5,157.0"/>
<polygon fill="#fffaaa" points="470.9,104.5 492.4,102.9 508.9,101.2 515.5,104.5 513.9,114.4 505.6,119.4 499,117.7 492.4,121 482.5,124.3 472.6,121 470.1,112.8"/>
<polygon fill="#ffa000" points="466,132.6 472.6,130.1 479.2,132.6 480.9,139.2 477.6,144.1 472.6,149.1 470.9,157 463.5,157 463.5,147.4 465.2,137.5"/>
<polygon fill="#ff6000" points="467.6,147.4 470.9,149.1 472.6,157 466,157.0"/>
<polygon fill="#37d23c" points="463.5,129.3 466,117.7 467.6,107.8 470.9,104.5 472.6,109.5 470.1,117.7 468.5,126 466,132.6"/>
<polygon fill="#fffaaa" points="468.5,126 472.6,109.5 475.1,111.1 472.6,121 470.1,129.3"/>
<polygon fill="#78f573" points="400,124.3 439.6,133.4 441.2,140.8 437.9,147.4 433,152.4 429.7,157 400,157.0"/>
<polygon fill="#37d23c" points="413.2,134.2 424.8,135.9 439.6,135 440.4,140.8 436.3,146.6 426.4,149.1 419.8,157 409.9,157 411.6,147.4"/>
<polygon fill="#fffaaa" points="434.6,137.5 441.2,135.9 442.9,142.5 438.8,149.1 433.8,154 431.4,157 424.8,157 429.7,149.1"/>
<polygon fill="#ffc03c" points="441.2,135 449.5,135.5 463.5,131.7 463.5,157 433,157 438.8,149.1 442.1,142.5"/>
<polygon fill="#ffa000" points="442.9,139.2 449.5,137.5 456.1,136.7 459.4,140.8 461.1,147.4 459.4,157 437.1,157 440.4,149.1"/>
<polygon fill="#ff6000" points="443.7,144.1 449.5,140.8 454.4,142.5 456.1,149.1 454.4,157 439.6,157 442.1,150.7"/>
<polygon fill="#ff3200" points="446.2,149.1 449.5,145.8 452.8,149.1 452,157 443.7,157.0"/>
<polygon fill="#37d23c" points="515.5,102.9 525.4,111.1 532,111.1 532,132.6 527,127.6 522.1,119.4 517.1,111.1"/>
<polygon fill="#78f573" points="522.1,111.1 532,112.8 532,126 527,121.0"/>
<polygon fill="#e1ffff" points="499,55.5 505,55.5 512,60 518,64 522,69 517,68 511,65 505,61 500,58.0"/>
<polygon fill="#96d2fa" points="503,55 516,55 520,59 521,64 518,64 512,60 505,55.5"/>
<polygon fill="#50a5f5" points="513,54.5 522,54.5 524,59 525.5,63 523,64 520,59 516,56.0"/>
<polygon fill="#e1ffff" points="506,73.5 512,72.5 517,75 518,79 513,80 508,78.0"/>
<polygon fill="#96d2fa" points="520,79 526,78 532,80 534,83 531,87 526,85 522,83.0"/>
</g>
<g clip-path="url(#t3)">
<rect x="530" y="54" width="134" height="104" fill="#50a5f5"/>
<polygon fill="#3c96f5" points="540.9,55 663,55 663,64.9 653.1,66.6 643.2,64.9 633.3,69.9 623.4,68.2 613.5,71.5 603.6,74.8 597,79.8 588.8,76.5 580.5,73.2 572.2,68.2 564,66.6 555.8,61.6 547.5,60.0"/>
<polygon fill="#2882f0" points="570.6,55 600.3,55 597,61.6 590.4,64.9 583.8,63.3 577.2,64.9 572.2,60.0"/>
<polygon fill="#1464d2" points="575.5,55 585.5,55 583.8,60 578.9,62.4 576.4,59.1"/>
<polygon fill="#2882f0" points="630,55 663,55 663,61.6 653.1,63.3 643.2,61.6 636.6,58.3"/>
<polygon fill="#141478" points="646.5,55 657.2,55 654.8,58.3 649.8,59.6"/>
<polygon fill="#78b9fa" points="620.1,79.8 626.7,73.2 636.6,69.9 646.5,68.2 663,66.6 663,93 656.4,94.6 646.5,93 643.2,94.6 636.6,97.9 630,99.6 623.4,96.3 616.8,91.3 616.8,84.7"/>
<polygon fill="#96d2fa" points="630,83.1 638.2,76.5 649.8,73.2 663,71.5 663,88 653.1,89.7 644.9,92.1 636.6,93.8 630,91.3"/>
<polygon fill="#96d2fa" points="531,99.6 539.2,102 547.5,104.5 555.8,103.7 564,99.6 572.2,100.4 580.5,104.5 587.1,109.5 592,112.8 597,111.9 603.6,107.8 610.2,104.5 616.8,102.9 623.4,102.9 630,102 636.6,99.6 643.2,96.3 646.5,104.5 663,97.9 663,157 531,157.0"/>
<polygon fill="#e1ffff" points="531,102 539.2,104.5 547.5,107 555.8,107.8 564,104.5 572.2,104.5 578.9,109.5 583.8,116.1 590.4,121 597,117.7 603.6,112.8 610.2,110.3 616.8,111.1 623.4,109.5 630,107.8 636.6,106.2 643.2,104.5 649.8,102.9 663,99.6 663,157 531,157.0"/>
<polygon fill="#b4faaa" points="531,104.5 539.2,107 547.5,110.3 555.8,111.1 564,109.5 572.2,112.8 578.9,119.4 585.5,127.6 590.4,132.6 593.7,127.6 597,122.7 603.6,119.4 610.2,121 616.8,121 623.4,117.7 630,114.4 636.6,111.1 643.2,107.8 649.8,106.2 663,104.5 663,157 531,157.0"/>
<polygon fill="#78f573" points="531,107.8 539.2,111.1 547.5,116.1 555.8,119.4 564,121 570.6,126 575.5,132.6 580.5,139.2 587.1,144.1 592,147.4 595.4,140.8 597,129.3 603.6,126 610.2,127.6 616.8,127.6 623.4,124.3 630,121 636.6,116.1 643.2,112.8 653.1,111.1 663,109.5 663,157 531,157.0"/>
<polygon fill="#37d23c" points="531,121 537.6,122.7 544.2,127.6 550.8,134.2 557.4,140.8 564,147.4 569,157 547.5,157 540.9,147.4 536,137.5 531,132.6"/>
<polygon fill="#37d23c" points="573.9,132.6 580.5,137.5 587.1,147.4 590.4,157 580.5,157 575.5,147.4"/>
<polygon fill="#37d23c" points="600.3,132.6 608.5,134.2 616.8,137.5 623.4,134.2 630,129.3 636.6,124.3 643.2,121 653.1,124.3 659.7,121 663,124.3 663,140.8 656.4,144.1 646.5,140.8 636.6,144.1 626.7,147.4 616.8,150.7 606.9,147.4 602,140.8"/>
<polygon fill="#fffaaa" points="531,127.6 536,129.3 540.9,135.9 545.9,144.1 547.5,157 531,157.0"/>
<polygon fill="#ffe878" points="531,130.9 535.1,132.6 539.2,139.2 543.4,147.4 545,157 531,157.0"/>
<polygon fill="#ffe878" points="603.6,157 606.9,150.7 616.8,152.4 626.7,149.1 636.6,145.8 646.5,144.1 654.8,147.4 663,144.1 663,157.0"/>
<polygon fill="#ffe878" points="653.1,134.2 659.7,130.9 663,132.6 663,144.1 656.4,145.0"/>
<polygon fill="#e1ffff" points="593.7,144.1 597,140.8 600.3,147.4 597,152.4"/>
<polygon fill="#e1ffff" points="554.1,129.3 564,135.9 573.9,147.4 570.6,149.1 560.7,139.2"/>
</g>
<g clip-path="url(#t4)">
<rect x="137" y="156" width="134" height="104" fill="#ffc03c"/>
<polygon fill="#ffe878" points="255.2,173.5 270,177.6 270,196.6 263.4,198.3 258.4,195.8 256,186.7"/>
<polygon fill="#ffe878" points="251.9,164.4 260.1,163.6 270,166.9 270,173.5 261.8,172.7"/>
<polygon fill="#ffa000" points="220.5,157 244.4,157 244.4,166.9 230.4,167.7 230.4,176.8 231.2,190 237,196.6 246.9,200.7 256.8,202.4 263.4,202.4 270,200.7 270,259 138,259 138,157.0"/>
<polygon fill="#ff6000" points="216.9,163.6 219.7,168.6 223.8,175.2 227.1,181.8 225.4,190 224.6,196.6 227.1,201.6 233.7,204 240.3,206.5 250.2,208.2 260.1,209.8 270,208.2 270,259 138,259 138,163.6"/>
<polygon fill="#ff3200" points="213.1,172.7 217.2,178.5 221.3,185.1 222.2,195 224.6,200.2 230.4,204.9 237,207.8 246.9,211.5 256.8,213.9 270,213.9 270,259 138,259 138,172.7"/>
<polygon fill="#e11400" points="202.4,195.8 222.2,196 223.8,200.2 226.3,204 231.2,207 238.7,210.6 245.2,213.9 253.5,217.7 260.9,220 270,221 270,259 138,259 138,195.8"/>
<polygon fill="#ffe878" points="245,157 270,157 270,192 264,180 255.5,174 255,168 250,165 245,161.0"/>
<polygon fill="#fffaaa" points="259,157 270,157 270,176.5 263,170 259,164 258,160.0"/>
<polygon fill="#ffc03c" points="256,190 263,189 270,192 270,198 263,197 256.5,196.0"/>
</g>
<g clip-path="url(#t5)">
<rect x="268" y="156" width="134" height="104" fill="#e11400"/>
<polygon fill="#ff3200" points="269,157 401,157 401,201.6 398.5,206.5 394.4,213.1 387.8,216.4 382.9,214.8 377.9,215.6 375.4,209.8 374.6,201.6 369.6,198.3 364.7,195.8 358.1,195.8 351.5,197.4 346.6,204.9 344.1,213.1 340.8,222.2 336.6,228.8 334.2,228 333.4,219.7 330.9,209.8 326.8,206.5 321.8,204.9 323.4,196.6 325.1,188.4 323.4,185.1 320.1,185.9 316.9,190 313.6,194.1 308.6,199.9 302,202.4 295.4,204.9 288.8,208.2 282.2,213.1 273.9,218.1 269,222.2"/>
<polygon fill="#ff6000" points="269,157 401,157 401,197.4 398.5,202.4 395.2,209.8 391.9,206.5 387.8,200.7 384.5,200.7 381.2,206.5 379.6,213.1 377.1,211.5 377.9,203.2 374.6,196.6 368,194.1 361.4,192.5 354.8,192.5 348.2,194.1 344.1,199.9 341.6,206.5 338.3,216.4 335.8,226.3 334.2,223 334.2,213.1 332.5,204.9 328.4,201.6 326.8,195 328.4,186.7 326.8,180.1 323.4,179.3 318.5,181.8 313.6,183.4 310.2,187.5 306.9,192.5 302,195.8 297.1,198.3 290.4,201.6 282.2,206.5 275.6,209.8 269,213.1"/>
<polygon fill="#ffa000" points="269,157 401,157 401,193 396.9,196.6 392.8,198.3 387.8,196.6 384.5,195.8 382,193.3 376.2,190.8 369.6,190 363.1,189.2 356.4,189.2 348.2,189.2 342.4,188.4 339.9,195 336.6,200.7 332.5,202.4 331.7,195 333.4,188.4 332.5,181.8 329.2,177.6 325.1,176 318.5,177.6 312.7,178.5 306.9,181.8 302,186.7 297.1,190.8 292.1,194.1 285.5,196.6 278.9,199.9 269,204.0"/>
<polygon fill="#ffc03c" points="269,157 401,157 401,190.3 396.9,192.5 391.9,193.6 387,192.5 382.9,190 377.9,188.4 371.3,187.5 364.7,186.7 358.1,187.5 351.5,187.5 344.9,186.7 339.9,184.2 335,180.1 330.1,176 325.1,173.5 318.5,174.3 311.9,173.5 305.3,176 300.4,179.3 295.4,183.4 290.4,185.9 285.5,189.2 278.9,192.5 269,196.6"/>
<polygon fill="#ffe878" points="269,157 401,157 401,188 395.2,190 387.8,189.2 382.9,187.5 377.9,185.9 374.6,185.9 368,185.1 361.4,184.2 354.8,185.9 346.6,184.2 339.9,180.1 335,176 330.1,172.7 323.4,171 316.9,171.9 310.2,171 303.6,172.7 297.1,174.3 290.4,177.6 283.9,181.8 277.2,185.1 269,188.4"/>
<polygon fill="#fffaaa" points="269,157 401,157 401,186.4 395.2,187.5 387.8,185.1 382.9,184.2 376.2,181.8 368,182.6 361.4,181.8 354.8,183.4 346.6,181.8 341.6,176.8 335,171.9 328.4,169.4 321.8,167.7 315.2,168.6 308.6,167.7 302,169.4 295.4,170.2 288.8,171.9 282.2,173.5 275.6,175.2 269,176.8"/>
<polygon fill="#37d23c" points="336.6,157 401,157 401,181.8 395.2,183.1 387.8,181.8 382.9,180.1 376.2,176.8 369.6,178.5 361.4,176.8 354.8,178.5 348.2,177.6 343.2,173.5 338.3,166.9 335,162.0"/>
<polygon fill="#37d23c" points="272.3,157 288.8,157 285.5,162 280.6,166.1 275.6,166.9 272.3,163.6"/>
<polygon fill="#37d23c" points="303.6,157 335,157 331.7,159.5 323.4,160.3 315.2,159.5 306.9,160.3"/>
<polygon fill="#78f573" points="338.3,157 401,157 401,175.2 394.4,170.2 387.8,173.5 384.5,166.9 377.9,162 374.6,166.9 368,171.9 361.4,169.4 354.8,168.6 346.6,165.3 339.9,162.0"/>
<polygon fill="#ffe878" points="373.3,162.8 377.1,162 377.9,167.7 374.6,168.6"/>
<polygon fill="#ff3200" points="358.1,231.3 363.1,228.8 368.8,230.4 368,235.4 361.4,236.2"/>
<polygon fill="#ff6000" points="360.6,232.1 364.7,230.4 367.2,232.1 366.4,234.6 362.2,234.9"/>
<polygon fill="#ff3200" points="351.5,218.1 354,217.7 354.3,220.5 351.8,220.9"/>
</g>
<g clip-path="url(#t6)">
<rect x="399" y="156" width="134" height="104" fill="#37d23c"/>
<polygon fill="#78f573" points="400,157 414.9,157 411.6,163.6 404.9,168.6 400,170.2"/>
<polygon fill="#fffaaa" points="426.4,157 424.4,163.6 419.8,171.9 415.7,179.3 412.4,181.8 400,180.9 400,259 532,259 532,157.0"/>
<polygon fill="#ffe878" points="429.2,157 427.2,163.6 423.1,171.9 419,180.1 415.2,184.7 409.9,186 400,185.1 400,259 532,259 532,157.0"/>
<polygon fill="#ffc03c" points="432.2,157 430.5,163.6 426.4,171.9 422.3,180.1 418.1,186.4 413.2,189.2 407.4,190.5 400,189.7 400,259 532,259 532,157.0"/>
<polygon fill="#ffa000" points="435,157 433.3,164.4 429.7,171.9 425.6,180.1 421.4,186.7 416.5,191.3 410.7,194.1 404.9,195.3 400,195 400,259 532,259 532,157.0"/>
<polygon fill="#ff6000" points="437.5,157 436,164.4 432.7,171.9 428.4,180.1 424.4,187 419.5,192.5 414,196.3 407.4,198.3 400,198.3 400,259 469.3,259 469.3,190 454.4,166.9 451.1,162.0"/>
<polygon fill="#ffa000" points="449.5,157 450.3,163.6 454.4,168.6 459.4,166.9 456.9,157.0"/>
<polygon fill="#ff3200" points="400,200.2 406.6,197.4 413.2,194.6 419.8,193.6 426.4,192.5 433,190 439.6,189.2 444.6,185.1 449.5,180.1 453.6,173.5 457.8,171 461.1,173.5 465.2,181.8 470.9,190.8 475.9,209.8 485.8,232.1 503.1,248.6 500.6,259 400,259.0"/>
<polygon fill="#e11400" points="400,204 407.4,204 411.6,201.6 416.5,199.1 421.4,196.6 429.7,195.8 437.9,195 442.9,192.5 454.4,192.5 462.7,191.7 469.3,192.5 470.9,198.3 472.6,206.5 475.1,213.1 477.6,216.4 479.2,223 480.9,229.6 484.1,234.6 487.4,239.5 492.4,246.1 495.7,251.1 497.4,259 400,259.0"/>
<polygon fill="#ff3200" points="470.9,190.8 473.4,196.6 475.1,204.9 477.6,211.5 481.7,219.7 483.3,226.3 486.6,232.1 491.6,236.2 496.5,241.2 503.1,248.6 494.1,251.9 485.8,244.5 479.2,238.7 474.6,231.3 471.8,223 468.5,214.8 466,206.5 464.7,198.3 465.2,191.7"/>
<polygon fill="#ff6000" points="470.9,190.8 473.4,196.6 475.1,204.9 477.6,211.5 481.7,219.7 483.3,226.3 486.6,232.1 491.6,236.2 496.5,241.2 503.1,248.6 495.7,250.7 487.8,243.2 481.2,237.5 476.7,230.4 473.9,222.7 470.6,214.8 468.1,206.5 466.8,198.3 467.6,191.3"/>
<polygon fill="#ffa000" points="470.9,190.8 473.4,196.6 475.1,204.9 477.6,211.5 481.7,219.7 483.3,226.3 486.6,232.1 491.6,236.2 496.5,241.2 503.1,248.6 497.4,249.4 489.9,241.2 483.3,236.2 478.9,229.6 476.2,222.2 472.9,214.8 470.6,206.5 469,198.3"/>
<polygon fill="#ffa000" points="464.4,157 532,157 532,237.9 518.8,240.3 505.6,247.8 503.1,246.1 500.6,226.3 497.4,214.8 485.8,195 475.1,176.8"/>
<polygon fill="#ffc03c" points="472.6,157 532,157 532,173.5 525.4,171.9 518.8,168.6 513.9,171.9 508.9,176.8 505.6,183.4 500.6,185.1 497.4,180.1 492.4,175.2 485.8,170.2 479.2,165.3"/>
<polygon fill="#ffe878" points="499,157 532,157 532,166.9 522.1,163.6 515.5,166.9 507.2,165.3 502.3,162.0"/>
<polygon fill="#ff6000" points="470.9,166.9 477.6,171.9 482.5,178.5 487.4,185.1 492.4,190 499,198.3 505.6,204.9 512.2,209.8 518.8,214.8 525.4,219.7 532,221.4 532,232.9 525.4,229.6 518.8,226.3 512.2,223 505.6,218.9 502.3,223 501,232.9 500.6,226.3 497.4,214.8 485.8,195 475.1,176.8"/>
<polygon fill="#ff3200" points="479.2,181.8 484.1,185.1 489.1,191.7 494.1,198.3 499,204.9 502.3,211.5 503.9,216.4 500.6,220.5 497.4,214.8 489.9,201.6 482.5,188.4"/>
<polygon fill="#e11400" points="485.8,190 489.9,192.5 492.4,197.4 489.1,196.6"/>
<polygon fill="#ffc03c" points="515.5,223 525.4,224.7 532,226.3 532,233.7 523.8,234.6 517.1,231.3"/>
<polygon fill="#ff3200" points="505.6,229.6 512.2,228 515.5,234.6 510.6,241.2 505.6,242.8"/>
</g>
<g clip-path="url(#t7)">
<rect x="530" y="156" width="134" height="104" fill="#ffa000"/>
<polygon fill="#ffe878" points="531,160.3 538.4,168.6 545,173.5 552.5,178.5 564,171 569.8,164.4 588.8,190 588.8,236.2 531,239.5"/>
<polygon fill="#fffaaa" points="531,160.3 538.4,168.6 545,173.5 552.5,178.5 564,171 569.8,164.4 573.9,173.5 580.5,181.8 585.5,190 580.5,190 573.9,181.8 569,176.8 562.4,178.5 554.1,183.4 545.9,180.1 537.6,175.2 531,168.6"/>
<polygon fill="#37d23c" points="546.7,177.6 552.5,178.5 559,175.2 561.5,177.6 555.8,181.8 549.1,181.8"/>
<polygon fill="#ffc03c" points="531,178.5 539.2,181.8 547.5,185.9 555.8,187.5 564,185.1 570.6,184.2 577.2,186.7 582.1,192.5 580.5,200.7 570.6,211.5 557.4,221.4 540.9,229.6 531,236.2"/>
<polygon fill="#ffa000" points="531,190 539.2,191.7 547.5,192.5 555.8,192.5 564,189.2 572.2,188.4 578.9,191.7 580.5,198.3 575.5,204.9 570.6,209.8 564,215.6 557.4,220.5 547.5,223 540.9,229.6 531,236.2"/>
<polygon fill="#ff6000" points="531,201.6 539.2,199.9 547.5,198.3 555.8,196.6 564,193.3 570.6,192.5 574.7,195.8 572.2,201.6 567.3,206.5 560.7,212.3 554.1,217.2 547.5,222.2 540.9,228 531,234.6"/>
<polygon fill="#ff3200" points="531,213.1 537.6,211.5 544.2,211.5 549.1,213.9 547.5,219.7 542.5,224.7 536,229.6 531,232.1"/>
<polygon fill="#e11400" points="531,223 534.3,222.2 536,226.3 532.6,229.6 531,230.4"/>
<polygon fill="#ffe878" points="547.5,157 663,157 663,175.2 620.9,176 597,173.5 580.5,173.5 572.2,168.6 569.8,162 555.8,164.4"/>
<polygon fill="#fffaaa" points="537.6,162 549.1,162 549.1,178.5 537.6,178.5"/>
<polygon fill="#37d23c" points="549.1,157 600.3,157 598.6,163.6 597,171.9 572.2,166.9 569.8,162 555.8,163.6"/>
<polygon fill="#ffe878" points="600.3,157 663,157 663,166.9 636.6,166.9 620.9,174.3 597,171.9 598.6,163.6"/>
<polygon fill="#78f573" points="572.2,157 600.3,157 597,163.6 587.1,165.3 578.9,163.6"/>
<polygon fill="#ffe878" points="620.1,173.5 623.4,166.9 630,162 636.6,157 663,157 663,259 661.4,246.1 653.1,211.5 649.8,191.7 638.2,186.7 631.6,181.8"/>
<polygon fill="#ffc03c" points="630,176.8 633.3,166.9 638.2,158.7 663,157 663,239.5 658,229.6 653.9,211.5 650.6,192.5 644.9,197.4 639.9,196.6 638.2,186.7"/>
<polygon fill="#ffa000" points="631.6,180.1 636.6,170.2 639.9,162 646.5,166.9 653.1,171.9 663,175.2 663,226.3 658,219.7 654.8,206.5 652.3,195 646.5,190 639.9,186.7 635,183.4"/>
<polygon fill="#ff6000" points="636.6,178.5 641.5,173.5 646.5,175.2 653.1,176.8 663,181.8 663,206.5 658,198.3 653.1,190 648.1,185.1 643.2,183.4 638.2,181.8"/>
<polygon fill="#ff6000" points="531,259 531,254.4 536,252.7 540.9,251.9 543.4,254.4 542.5,259.0"/>
<polygon fill="#ffe878" points="547.5,157 555.8,163.6 565.6,162.8 569.8,162 572.2,166.9 580.5,171.9 585.5,166.9 578.9,162 570.6,157.0"/>
</g>
<g clip-path="url(#t8)">
<rect x="137" y="258" width="134" height="104" fill="#e11400"/>
<polygon fill="#ff3200" points="210.6,259 223.8,264 230.4,264 233.7,268.9 235.4,273.9 237,272.2 241.9,268.9 250.2,270.6 256.8,273.9 263.4,278.8 270,280.5 270,298.6 250.2,299.4 223.8,279.6 213.9,265.6"/>
<polygon fill="#ff6000" points="220.5,272.2 227.1,270.6 232.1,273.9 235.4,278.8 243.6,282.1 250.2,287.1 256.8,288.7 270,287.1 270,298.6 250.2,299.4 237,288.7 222.2,279.6"/>
<polygon fill="#ffa000" points="228.8,282.1 237,283.8 243.6,287.9 250.2,292 253.5,294.5 251.9,299.4 240.3,292.8"/>
</g>
<g clip-path="url(#t9)">
<rect x="268" y="258" width="134" height="104" fill="#e11400"/>
<polygon fill="#ff3200" points="269,259 276.4,259 275.6,267.3 278.1,277.2 285.5,283.8 293.8,282.1 302,278 311.9,278.8 318.5,282.1 325.1,286.2 331.7,290.4 338.3,294.5 342.4,299.4 344.1,305.2 348.2,308.5 371.3,310.2 377.9,313.5 384.5,310.2 394.4,308.5 401,306.9 401,361 331.7,361 331.7,300.3 315.2,297.8 302,287.1 269,297.8"/>
<polygon fill="#ff6000" points="269,278.8 273.9,283.8 278.9,289.5 285.5,288.7 293.8,285.4 303.6,282.1 311.9,283.8 316.9,287.9 320.1,292 326.8,292 333.4,294.5 338.3,300.3 339.9,306.9 343.2,313.5 351.5,315.1 361.4,313.5 368,313.5 374.6,316.8 381.2,315.9 387.8,316.8 401,322.5 401,361 331.7,361 331.7,300.3 315.2,297.8 302,287.1 269,297.8"/>
<polygon fill="#ff3200" points="346.6,325 351.5,321.7 356.4,325 358.1,333.3 354.8,338.2 348.2,336.6"/>
</g>
<g clip-path="url(#t10)">
<rect x="399" y="258" width="134" height="104" fill="#e11400"/>
<polygon fill="#ff3200" points="400,300.3 406.6,297.8 416.5,298.6 426.4,297 435.5,298.6 441.2,303.6 440.4,310.2 437.1,318.4 434.6,328.3 433,336.6 433,344.8 434.6,361 400,361.0"/>
<polygon fill="#ff3200" points="444.6,308.5 452.8,305.2 458.6,308.5 461.1,315.1 457.8,321.7 449.5,323.4 445.4,316.8"/>
<polygon fill="#ff3200" points="464.4,280.5 470.9,278.8 479.2,280.5 487.4,282.1 485.8,288.7 479.2,293.7 472.6,290.4 466,287.1"/>
<polygon fill="#ff3200" points="470.9,300.3 477.6,303.6 485.8,301.9 489.1,306.9 485.8,316.8 482.5,328.3 477.6,336.6 470.9,341.5 466,333.3 469.3,321.7 472.6,311.8"/>
<polygon fill="#ff3200" points="437.9,336.6 449.5,338.2 459.4,330 469.3,336.6 479.2,348.1 485.8,354.7 485.8,361 435.5,361.0"/>
<polygon fill="#ff3200" points="492.4,337.4 499,325.8 509.7,315.9 520.5,305.2 527,292.8 532,282.1 525.4,277.2 522.1,290.4 513.9,303.6 503.9,315.1 495.7,325 490.8,331.6"/>
<polygon fill="#ff6000" points="400,325 408.2,321.7 418.1,325 426.4,331.6 431.4,341.5 433,361 400,361.0"/>
<polygon fill="#ff6000" points="447.9,310.2 452.8,307.7 456.9,310.2 457.8,316.8 452.8,320.1 448.7,316.8"/>
<polygon fill="#ff6000" points="447,324.2 452.8,322.5 457.8,325 458.6,331.6 454.4,336.6 447.9,336.6 446.2,330.0"/>
<polygon fill="#ff6000" points="472.6,308.5 477.6,306.9 480.9,313.5 477.6,321.7 472.6,318.4"/>
<polygon fill="#ff6000" points="441.2,344.8 449.5,341.5 459.4,344.8 462.7,353.1 457.8,361 442.9,361.0"/>
<polygon fill="#ff6000" points="512.2,271.4 518.8,268.9 525.4,270.6 532,268.9 532,280.5 527.9,276.3 518.8,273.9"/>
<polygon fill="#ffa000" points="400,340.7 404.1,339.5 406.6,342.3 404.1,345.7 400,346.1"/>
<polygon fill="#ff6000" points="505.6,262.3 515.5,260.7 525.4,264 532,262.3 532,268.9 525.4,269.7 515.5,267.3"/>
<polygon fill="#ffa000" points="508.9,259 525.4,259 532,260.7 532,262.3 523.8,262.3 515.5,261.0"/>
</g>
<g clip-path="url(#t11)">
<rect x="530" y="258" width="134" height="104" fill="#ff6000"/>
<polygon fill="#ff3200" points="531,259 537.6,259 536.8,268.9 533.5,278.8 531,285.4"/>
<polygon fill="#e11400" points="531,264 534.6,263.1 535.1,270.6 532.3,275.5 531,275.5"/>
</g>
<g clip-path="url(#t13)">
<rect x="268" y="360" width="134" height="104" fill="#ff6000"/>
<polygon fill="#ffa000" points="349.4,361 361.4,361 363.1,367.6 361.4,377.5 358.9,385.8 356.4,389.1 354,375.9"/>
<polygon fill="#ffc03c" points="357.3,369.3 359.8,368.4 360.6,377.5 358.1,382.5"/>
<polygon fill="#ff3200" points="356.4,388.2 361.4,389.9 366.4,392.4 369.6,399 372.9,405.6 377.9,408.9 384.5,410.5 391.1,407.2 397.7,402.3 401,400.6 401,463 344.9,463 344.9,421.2 353.1,399.0"/>
<polygon fill="#e11400" points="351.5,403.1 358.1,399.8 364.7,402.3 368,407.2 371.3,412.2 377.9,415.5 384.5,417.1 391.1,417.9 397.7,418.8 401,420.4 401,463 344.9,463 344.9,421.2"/>
<polygon fill="#ff3200" points="392.4,433.6 401,432.8 401,463 388.6,463 388.6,455.9 392.4,455.1"/>
<polygon fill="#ff6000" points="346.6,426.2 349,427 351.5,435.3 356.4,446.8 361.4,460 362.2,463 358.1,463.0"/>
</g>
<g clip-path="url(#t14)">
<rect x="399" y="360" width="134" height="104" fill="#ff6000"/>
<polygon fill="#ff3200" points="400,389.1 408.2,388.2 416.5,390.7 421.4,387.4 429.7,382.5 431.4,375.9 437.9,374.2 446.2,377.5 452.8,382.5 454.4,392.4 452.8,402.3 456.1,408.9 449.5,410.5 441.2,413.8 449.5,418.8 452.8,427 451.1,435.3 452.8,443.5 447.9,453.4 444.6,463 400,463.0"/>
<polygon fill="#ff3200" points="464.4,394 474.2,392.4 485.8,389.1 492.4,394 492.4,410.5 482.5,415.5 474.2,417.1 466,413.8 463.5,403.9"/>
<polygon fill="#ff3200" points="437.9,361 449.5,361 454.4,367.6 457.8,375.9 451.1,374.2 444.6,369.3"/>
<polygon fill="#ff3200" points="462.7,361 474.2,361 472.6,367.6 466,370.9"/>
<polygon fill="#e11400" points="400,402.3 409.9,400.6 418.1,407.2 421.4,418.8 418.1,430.3 408.2,435.3 400,433.6"/>
<polygon fill="#e11400" points="400,433.6 409.9,433.6 416.5,438.6 423.1,443.5 428.1,453.4 421.4,456.7 416.5,463 400,463.0"/>
<polygon fill="#e11400" points="433,423.7 442.9,422.1 449.5,427 447.9,435.3 441.2,438.6 434.6,433.6"/>
<polygon fill="#e11400" points="428.1,399 434.6,395.7 437.9,400.6 433,403.9"/>
<polygon fill="#ffa000" points="466,420.4 472.6,417.1 477.6,418.8 470.9,427 464.4,432 463.5,427.0"/>
<polygon fill="#ffa000" points="433,443.5 439.6,441.9 442.9,446.8 436.3,450.1"/>
<polygon fill="#ff3200" points="512.2,420.4 522.1,415.5 532,410.5 532,443.5 525.4,440.2 515.5,446.8 510.6,453.4 507.2,460 503.9,463 507.2,427.0"/>
<polygon fill="#e11400" points="510.6,430.3 515.5,427 518.8,432 513.9,440.2 510.6,446.8 507.2,453.4 508.1,440.2"/>
<polygon fill="#ffa000" points="525.4,443.5 532,440.2 532,463 518.8,463 522.1,453.4"/>
<polygon fill="#ffc03c" points="528.7,450.1 532,448.5 532,463 525.4,463.0"/>
</g>
<g clip-path="url(#t15)">
<rect x="530" y="360" width="134" height="104" fill="#ffa000"/>
<polygon fill="#ffc03c" points="531,415.5 537.6,416.3 536.8,422.1 531,427.0"/>
<polygon fill="#ffe878" points="531,423.7 536.3,423.7 534.3,433.6 531,443.5"/>
</g>
<g clip-path="url(#t17)">
<rect x="268" y="462" width="134" height="104" fill="#e11400"/>
<polygon fill="#ff3200" points="368,487.8 374.6,494.4 377.9,501 381.2,507.6 384.5,511.7 391.1,512.5 397.7,514.2 401,515.8 401,532.3 377.9,532.3 371.3,496.0"/>
<polygon fill="#ff6000" points="368.8,489.4 374.6,496 377.9,504.3 381.2,510.9 384.5,514.2 391.1,515 397.7,516.6 401,518.3 401,532.3 377.9,532.3 372.1,499.3"/>
<polygon fill="#ffa000" points="372.1,496 376.2,504.3 379.6,512.5 382.9,516.6 389.4,517.5 396.1,519.1 401,520.8 401,532.3 377.9,532.3"/>
<polygon fill="#ffc03c" points="373.8,504.3 377.1,512.5 380.4,519.1 387.8,519.9 394.4,521.6 401,523.2 401,532.3 377.9,532.3"/>
<polygon fill="#fffaaa" points="377.1,517.5 379.6,521.6 386.1,522.4 392.8,524.1 401,524.9 401,532.3 377.9,532.3"/>
<polygon fill="#78f573" points="379.2,526.5 384.5,524.9 391.1,525.7 397.7,525.4 401,525.7 401,532.3 379.6,532.3"/>
<polygon fill="#ff3200" points="389.4,463 401,463 401,482.8 392.8,483.6 391.1,477.9 389.4,471.3"/>
<polygon fill="#ff6000" points="394.4,466.3 401,465.5 401,472.9 396.1,472.1"/>
</g>
<g clip-path="url(#t18)">
<rect x="399" y="462" width="134" height="104" fill="#e11400"/>
<polygon fill="#ff3200" points="400,512.5 409.9,509.2 421.4,505.9 429.7,501 436.3,492.7 438.8,484.5 439.6,476.2 441.2,469.6 444.6,463 467.6,463 454.4,482.8 437.9,512.5 421.4,526.5 400,528.2"/>
<polygon fill="#ff6000" points="400,515.8 409.9,512.5 421.4,509.2 431.4,503.4 437.9,494.4 440.4,486.1 441.6,477.9 443.2,470.4 447,463 467.6,463 454.4,482.8 437.9,512.5 421.4,526.5 400,528.2"/>
<polygon fill="#ffa000" points="400,519.1 409.9,516.6 421.4,512.5 433,505.9 439.6,496 442.6,487.8 443.2,479.5 446.2,472.9 449.5,468 454.4,463 467.6,463 454.4,482.8 437.9,512.5 421.4,526.5 400,528.2"/>
<polygon fill="#ffc03c" points="400,521.6 409.9,519.1 421.4,515.8 433,510 440.4,501 444.6,491.9 446.2,484.5 448.7,487.8 450.3,493.5 437.9,512.5 421.4,526.5 400,528.2"/>
<polygon fill="#ffe878" points="400,523.2 409.9,521.6 421.4,519.1 429.7,515.8 434.6,516.6 421.4,526.5 400,528.2"/>
<polygon fill="#37d23c" points="400,525.4 409.9,524.1 419.8,522.4 425.6,522.7 421.4,526.5 400,528.2"/>
<polygon fill="#ff3200" points="423.1,498.5 427.2,495.2 432.2,496 434.3,500.1 432.2,503.4 427.2,505.1 423.9,502.6"/>
<polygon fill="#ffa000" points="442.1,478.7 445.4,477.9 447.9,480.3 447.5,484.5 444.6,486.1 442.1,483.6"/>
</g>
<g clip-path="url(#t20)">
<polygon fill="#ffe878" points="456.6,150 529.2,150 532.5,156.6 537.5,164.9 540.8,173.1 545.8,177.2 550.7,178.1 557.3,176.4 563.9,171.5 570.5,163.2 573.8,169.8 587,174.8 587,249 504.5,249 502,243.3 496.2,229.2 489.6,216 481.4,201.2 473.1,186.3 464.9,171.5 456.6,150.0"/>
<polygon fill="#fffaaa" points="516,163.2 521,164.9 524.3,169.8 520.2,169.0"/>
<polygon fill="#fffaaa" points="570.5,171.5 577.1,169.8 587,174.8 587,188.8 582,188 575.5,179.7"/>
<polygon fill="#ffc03c" points="490,150 493.8,156.6 499.6,163.2 507.8,168.2 519.4,173.1 526,178.1 529.2,184.7 532.5,189.6 540.8,191.3 550.7,189.6 560.6,187.1 570.5,185.5 578.8,187.1 585.4,189.6 587,188.8 587,249 504.5,249 502,243.3 496.2,229.2 489.6,216 481.4,201.2 473.1,186.3 464.9,171.5 456.6,150.0"/>
<polygon fill="#ffa000" points="482.2,150 486.4,156.6 492.1,163.2 499.6,171.5 511.1,178.1 517.7,184.7 522.6,191.3 527.6,196.2 535.9,197.9 545.8,197 555.6,194.6 565.5,191.3 573.8,189.6 578.8,192.9 577.1,199.5 587,199.5 587,249 504.5,249 502,243.3 496.2,229.2 489.6,216 481.4,201.2 473.1,186.3 464.9,171.5 456.6,150.0"/>
<polygon fill="#ff6000" points="474.8,150 479.8,156.6 486.4,164.9 492.1,173.1 497.1,181.4 502.9,189.6 507.8,197.9 512.8,206.1 519.4,212.7 527.6,216 537.5,216 547.4,212.7 557.3,207.8 565.5,201.2 571.3,194.6 574.6,196.2 576.3,202.8 587,204.5 587,249 504.5,249 502,243.3 496.2,229.2 489.6,216 481.4,201.2 473.1,186.3 464.9,171.5 456.6,150.0"/>
<polygon fill="#ff3200" points="467.4,155 473.1,161.6 479.8,171.5 486.4,183 492.1,192.9 497.9,202.8 502.9,211.1 507.8,217.7 514.4,221 524.3,222.6 534.2,224.3 540.8,222.6 547.4,224.3 544.1,227.6 587,227.6 587,249 504.5,249 502,243.3 496.2,229.2 489.6,216 481.4,201.2 473.1,186.3 464.9,171.5 456.6,150.0"/>
<polygon fill="#e11400" points="509.4,224.3 516,222.6 524.3,225.1 530.9,227.6 534.2,232.5 529.2,235.8 521,237.5 514.4,236.7 510.3,232.5"/>
<polygon fill="#e11400" points="483.1,186.3 488,192.9 492.9,201.2 490.5,199.5 485.5,192.1"/>
<polygon fill="#ff6000" points="501.2,219.3 507.8,217.7 510.3,224.3 509.4,232.5 507.8,239.1 504.5,244.9 502,235.8 500.4,227.6"/>
<polygon fill="#ffa000" points="502,222.6 507,221 508.1,229.2 506.1,237.5 503.7,240.8 502,232.5"/>
<polygon fill="#ffc03c" points="502.9,225.9 506.1,225.1 506.5,232.5 504.2,235.8"/>
<polygon fill="#ffa000" points="506.1,244.9 514.4,240.8 524.3,235.8 534.2,230.9 544.1,225.9 550.7,222.6 557.3,220.1 563.9,216.8 568.9,213.5 572.1,209.4 570.5,207.8 565.5,213.5 559,217.7 550.7,220.1 542.5,224.3 532.5,229.2 522.6,234.2 512.8,239.1 505.3,243.3"/>
</g>
<g clip-path="url(#t24)">
<polygon fill="#ffe878" points="502.7,391.5 541.5,391.5 541.5,478.9 502.7,478.9"/>
<polygon fill="#ffc03c" points="531.8,401.2 534.3,409.3 535.9,417.4 532.6,423 530.5,429.5 528.3,438.4 525.7,448.1 522.4,457.8 519.7,465.9 516.9,473.2 504.3,477.2 502.7,449.7 506.7,425.5 520.5,414.1"/>
<polygon fill="#ffa000" points="530.2,402.8 532.1,409.3 533.4,416.6 531,423 528.6,430.3 526.2,439.2 523.4,448.9 520.5,457.8 518.1,465.9 515.6,473.2 504.3,477.2 502.7,449.7 506.7,425.5 520.5,414.1"/>
<polygon fill="#ff6000" points="525.3,412.5 529.4,414.1 530.2,419.8 528.3,425.5 525.7,433.5 523.4,441.6 520.8,449.7 518.5,457 516.4,464.3 514.3,471.6 504.3,477.2 502.7,449.7 506.7,425.5 517.2,416.6"/>
<polygon fill="#ff3200" points="516.4,419.8 522.1,418.2 526.2,419.8 525.3,427.1 522.9,433.5 520.5,440 518.1,448.1 516,454.6 514,462.7 512.4,470.8 504.3,477.2 502.7,449.7 506.7,425.5"/>
<polygon fill="#e11400" points="512.4,423.8 517.2,423 519.7,427.1 518.1,433.5 514.8,438.4 512.4,435.2 511.6,428.7"/>
<polygon fill="#e11400" points="506.7,449.7 511.6,446.5 514,449.7 513.2,456.2 511.6,462.7 510.8,469.1 508.3,470.8 505.9,465.9 504.6,456.2"/>
</g>
</g>
<polygon fill="#78b9fa" points="435.5,55 433,56.7 429.7,61.6 428.1,66.6 426.4,72.3 433,75.6 442.9,74.8 449.5,72.3 457.8,70.7 466,71.5 472.6,75.6 479.2,77.3 489.1,75.6 495.7,73.2 496.5,69.9 492.4,64.9 485.8,61.6 479.2,58.3 474.2,55.0"/>
<polygon fill="#96d2fa" points="462.7,58.3 474.2,56.7 482.5,61.6 489.1,68.2 492.4,73.2 482.5,76.5 472.6,74.8 469.3,68.2 466,63.3"/>
<polygon fill="#50a5f5" points="435.5,55 449.5,55 446.2,61.6 437.9,68.2 428.9,67.4 430.5,60.8"/>
<polygon fill="#96d2fa" points="420.6,75.1 426.4,73.2 431.4,75.6 424.8,77.3"/>
<polygon fill="#78f573" points="480,60 487,63 495,68.5 496,71.5 494.5,74.5 491,76.5 482,78 476,77 478,70 479,65.0"/>
<polygon fill="#b4faaa" points="476,61 480,60 479,65 478,70 476,76.5 473,76.2 474,68.0"/>
<polygon fill="#50a5f5" points="519.5,55 529.4,71.5 531,73.2 534.3,78.1 538.4,81.1 535.1,82.7 531.8,88 531,94.6 534.3,97.9 539.2,101.2 547.5,103.7 555.8,102.9 556.6,97.9 555.8,93 553.3,88 552.5,81.4 551.6,73.2 547.5,68.2 543.4,63.3 540.9,60 538.4,55.0"/>
<polygon fill="#3c96f5" points="519.5,55 527.7,64.9 534.3,69.9 540.9,66.6 538.4,55.0"/>
<path class="b" d="M260.4,109L258.9,111.9L257.1,115.4L254.3,118.5L250.2,121.3L246.1,124L243.1,127.3L241.5,131.3L240,135.9L239,140L237,145L235,148.1L232.4,151.6L229.9,153.5L226.3,155.3L223,156.7L222.5,157L220.5,159L219.2,162L216.9,164.9L214.2,169.4L213.1,173.5L210.6,178.5L208.1,183.4L206,187.5L204,191.7L202.8,195.3L204,198.3L204.8,202.4L206,206.5L207,211.5L208,216.4L208,221.4L207,225.5L204.8,229.6L202.4,232.9L201,235.4L202.7,237.9L204.3,241.2L205.3,245.3L204.3,248.6L206,251.9L208,255.2L208.9,259L209.9,259L212.6,260.3L215.6,262.6L219.7,266.4L222.2,271.4L223.8,277.2L228.8,281.3L235.4,285.4L240.3,290.4L245.2,294.5L250.2,297L255.2,294.5L261.8,292.8L270,292L269,292.8L273.1,292.8L278.1,294.5L283.9,291.2L290.4,288.7L297.1,285.4L303.6,283.8L309.4,285.4L312.7,288.7L315.2,292.8L316.9,296.1L321.8,296.1L326.8,294.5L332.5,296.1L335,300.3L336.6,306L337,311.8L335,315.9L335.8,320.9L334.2,326.7L333.4,331.6L335,336.6L338.3,340.7L343.2,344.8L346.6,349L349,353.1L348.2,358L349,361L349.4,361L351.5,366L353.1,370.9L354,375.9L354.8,382.5L356.4,388.2L355.6,394L353.1,399L351.2,403.9L349.9,408.9L348.2,415.5L346.9,421.2L346.6,426.2L347.9,430.3L349.9,435.3L352.3,440.2L354.8,445.2L357.3,450.1L359.4,455.9L360.6,463L360.2,463L361.4,469.6L363.1,477.9L365.5,484.5L368.8,489.4L372.1,493.5L372.9,497.7L374.6,504.3L376.2,510.9L377.1,515.8L377.9,519.9L378.7,524.1L379.6,528.2L384.5,529.8L387.8,531L391.9,529.8L397.7,528.7L401,527.4L400,527L406.6,526.5L414.9,525.7L421.4,524.1L427.2,520.8L432.2,516.6L436.3,511.7L440.4,505.9L444.6,500.1L448.7,493.5L451.1,487.8L452.5,482L452,477.9L454.4,475.4L459.4,472.9L462.7,470.4L465.2,466.3L466,463L465.2,463L463.5,455.1L461.9,448.5L461.1,441.9L463.5,440.2L468.5,435.3L474.2,430.3L480.9,425.4L486.6,420.4L489.9,415.5L490.8,410.5L489.9,402.3L490.4,394L489.9,385.8L486.6,377.5L485,370.9L485.8,364.3L482.5,361L482.5,361L483.3,354.7L485.8,348.1L489.1,341.5L492.4,335.7L495.7,330.8L499,325.8L503.9,320.1L509.7,315.1L515.5,310.2L520.5,304.4L523.8,298.6L526.7,292.8L529,288.7L531.2,286.2L531,287.1L533.5,281.3L537.6,272.2L540.1,265.6L541.7,260.7L542.5,259L542.5,259L543.4,254.4L540.9,251.9L536,252.7L531,254L528,256L520,258L514,260L505.9,259L502,256.5L501,256L499.5,254.4L499,252.7L501,251.1L503.1,248.6L500.6,246.1L495.7,241.2L490.8,236.2L485.8,232.1L482.5,226.3L480.9,219.7L478.4,214.8L475.9,209.8L474.2,204.9L472.6,196.6L470.9,190.8L466.8,185.9L465.2,181.8L462.7,175.2L460.2,168.6L457.8,162L455.3,157L454.9,157L452.5,152.4L450.3,147.8L449,142.5L448.7,136.7L446.2,135.4L439.6,134.2L433,135.9L424.8,135.9L416.5,133.4L408.2,130.1L400,126.3L401,126L394.4,126.8L389.4,128.4L387,131.7L387.8,135.9L385.3,140L382.9,141.7L377.9,139.2L372.9,136.7L368,134.2L363.1,129.3L358.1,126.8L351.5,126L346.6,124.3L344.1,120.2L342.4,116.1L344.1,111.1L342.4,106.2L343.2,102.9L339.9,101.2L336.6,100.4L334.2,102L330.1,102.9L323.4,102L316.9,102.9L310.2,102.9L303.6,103.7L297.1,105.3L290.4,107L285.5,109.5L280.6,111.9L275.6,112.8L269,111.9ZM435.5,55L433,56.7L429.7,61.6L428.1,66.6L426.4,72.3L423.1,74.5L420.6,78.1L419.8,79.8L421.4,82.2L419,85.5L420.6,88.8L422.3,93L423.1,96.3L428.1,99.6L433,102.9L439.6,104.5L442.9,102L447.9,101.2L452.8,102.9L457.8,104.5L462.7,102.9L466,101.2L468.5,102.9L468,107.8L466.8,114.4L465.2,121L464,127.6L463,132.6L456.1,135.5L449.5,136.2L450,143.5L451.5,148.3L454.4,153.2L458.1,157L460.7,152.4L462.4,148.3L463.2,146.1L464,150.7L464,157L464.4,157L467.6,162L470.9,166.9L473.4,171.9L475.1,176.8L479.2,181.8L482.5,188.4L485.8,195L489.9,201.6L493.2,208.2L497.4,214.8L499.8,220.5L500.6,226.3L501,232.9L502,239.5L503.1,246.1L505.6,247L512.2,242.8L518.8,239.5L525.4,237.9L532,236.2L531,236.2L536,232.9L540.9,229.6L545.9,226.3L547.5,223L552.5,222.2L557.4,221.4L562.4,218.9L566.5,215.6L570.6,211.5L574.7,208.2L578,204.9L580.5,200.7L582.1,196.6L583.8,192.5L587.1,190L585.5,186.7L582.1,183.4L578.9,180.1L575.5,176.8L573.1,173.5L570.6,170.2L569.8,166.9L569,165.5L567,167L565,170L562,174L559,177L556,179L553,180L549,178.8L546.5,177.2L545.5,174.5L545,170L544,167L542,166.8L541.2,170L541.5,174L542.5,176.5L540.5,172L538.5,167L536,163L533,159L530,154L528.5,149L528,146L529,143.5L532,142.5L534.5,143L537,142.5L539,146L542,150L543.5,154L547,157L550,159.5L554,162L558,163.5L562,164L566,162.5L570,161L572,160.5L573,164L574,167L576,169L580,170L580.5,171.9L587.1,172.7L593.7,172.7L597,171.9L603.6,172.7L610.2,171.9L616.8,171L620.9,174.3L625,177.6L628.4,180.1L631.6,181.8L634.1,185.9L638.2,186.7L633.3,189.2L636.6,192.5L639.9,196.6L644.9,197.4L649,194.1L649.8,191.7L651.1,196.6L652.3,203.2L653.1,211.5L654.8,221.4L657.2,229.6L659.7,237.9L661.4,246.1L662.5,252.7L663,259L670,262L670,48L435.5,48.0ZM533.4,394.7L535.9,398.8L537.5,404.4L538.6,410.9L539.6,414.9L537.5,417.4L538,422.2L535.9,425.5L534.3,431.9L531.8,440L529.4,448.1L527,456.2L525,462.7L523.4,469.1L521.3,473.2L518.1,474.8L514,476.4L510.8,474.8L507.5,471.6L505.9,467.5L505.1,462.7L504,457.8L504.3,453L505.9,448.9L508.3,444.9L509.1,440L508.3,435.2L507.5,430.3L507.9,425.5L509.1,421.4L512.4,419L517.2,417.4L521.3,414.9L523.7,411.7L525.3,408.5L527.8,405.2L529.4,402L531.5,398.8L532.6,395.5ZM275.6,112.8L278.9,113.6L279.7,121L281.4,128.4L277.2,130.9L270.6,132.2L269,135.9M330.1,102.9L329.2,109.5L326.8,116.1L325.9,121L329.2,126L332.5,132.6L335,139.2L335.8,147.4L337.5,157.0M344.1,121L341.6,126L338.3,130.1L335.8,134.2L335,139.2M281.4,55L280.6,60L278.9,62.4M325.9,60L326.8,57L325.1,55.0M304.5,66.6L306.9,64.1L311.9,63.3L316.9,62.4L321.8,61.6L325.9,60L328.4,57.5L334.2,57L339.9,59.1L343.2,63.3L348.2,68.2L351.5,73.2L356.4,77.3L363.1,80.6L368,82.2L372.1,83.4L374.6,86.7L372.9,90L368.8,95.4L371.3,92.1L374.6,90L373.3,86.4L374.9,82.6L378.7,84.7L379.6,83.1L375.4,79.8L371.3,76.5L365.5,72.3L363.9,69.9L360.6,67.4L356.4,62.4L353.1,58.3L349.9,55.0M349.9,96.3L356.4,94.6L364.7,93.8L368,95.4L366.4,99.6L363.9,102.9L358.1,101.2L351.5,98.7L349.9,96.3M329.2,78.1L333.4,76.5L335.8,79.8L336.6,85.5L334.2,89.7L330.1,88.8L329.2,83.9L329.2,78.1M330.9,68.2L334.2,66.6L335,71.5L333.4,75.6L331.4,73.2L330.9,68.2M299.5,85L302,84.4L304.5,85.5L304,87.2L301.2,87.3L299.5,85.0M363,55L366,60L370,64L375,66.5L380,69L383.5,71.5L384.5,75L384,79L385.5,83L387.5,86L390,89L391.5,92L390,94L392,95L394.5,97L395,100L397,102L399,105L402,106L404,108L405,105L403,102L402,99L404,97L401,94L398,93L402,92.5L407,95L410,97L408,93L405,90L402,87L400.5,83L401,80.5L403,81L405,83L407,84L406,81L410,79L414,77.5L418,76.5L422,78.5L425,80.0M383.5,71.5L385,68.5L387.5,68L390,71L392,75L391,79L389,84L387.5,86.0M392,78.5L396,77.5L400,76.5L404,75.5L408,75L412,75.5L416,74.5L419,75L421,74L426,72L428,71.0M400,59L399.5,63L402,67L401.5,71L400,76.5M400,59L405,61L412,60L418,59L424,59.5L429,62L430,58L431,55.0M384,55L386,58L390,60L394,59L400,59.0M432,55L430,59L429,62.5L428,66L427,70L429,74L433,75.5L438,76.5L440,76.0M468.5,102.9L472.6,103.7L482.5,102.9L492.4,102L499,101.2L505.6,100.4L509.7,99.6L513.9,101.2L515.5,97.9L513.9,93L512.2,88L508.9,84.7L507.2,79.8L505.6,76.5L499,75.6L496.5,72.8M513.9,101.2L517.1,109.5L515.5,114.4L518.8,121L525.4,127.6L528.7,134.2L532,139.2M509.7,99.6L505.6,104.5L499,109.5L495.7,114.4L492.4,120.2L482.5,125.1L485.8,129.3L492.4,132.6L502.3,137.5L508.9,140.8L515.5,147.4L522.1,149.9L528.7,149.1L532,147.4M482.5,125.1L470.9,130.1L477.6,135.9L475.9,140.8L470.9,145L466,147.4L463.5,146.6M465.2,121L466,127.6L465.2,134.2L464.4,140.8L463.5,146.6L463,132.6M466.8,114.4L469.3,111.1L470.1,107.8M466,122.7L470.9,124.3L475.9,121L482.5,125.1M412.4,157L412.4,137.5L411.6,130.9M435.5,55L433,56.7L429.7,61.6L428.1,66.6L426.4,72.3L433,75.6L442.9,74.8L449.5,72.3L457.8,70.7L466,71.5L472.6,75.6L479.2,77.3L489.1,75.6L495.7,73.2L496.5,69.9L492.4,64.9L485.8,61.6L479.2,58.3L474.2,55.0M420.6,75.1L426.4,73.2L431.4,75.6L424.8,77.3L420.6,78.1M449.5,111.9L454.4,110.8L458.6,111.1L457.8,114.1L452.8,115.2L449.5,114.1L449.5,111.9M404.9,110.3L416.5,111.9L418.1,113.6L406.6,112.8L404.9,110.3M496,71.5L500,73.5L504,76L506,80L506.5,83L509,85L510,88L512,89L516,90L520,89.5L524,87L527.5,85.5L529,89L530,92L532.5,93.0M508.5,85.5L508.5,92L510,98L512,104L514,110.0M519.5,55L529.4,71.5L531,73.2L534.3,78.1L538.4,81.1L535.1,82.7L531.8,88L531,94.6L534.3,97.9L539.2,101.2L547.5,103.7L555.8,102.9L556.6,97.9L555.8,93L553.3,88L552.5,81.4L551.6,73.2L547.5,68.2L543.4,63.3L540.9,60L538.4,55.0M551.6,72.3L555.8,70.7L559.9,73.2L560.7,77.3L557.4,79.8L553.3,78.9M555.8,102.9L559,99.6L564,95.4L570.6,94.6L577.2,96.3L583.8,99.6L588.8,102.9L592.9,104.5L593.7,111.1L600.3,110.3L605.2,106.2L610.2,102.9L613.5,99.6L620.1,98.7L626.7,100.4L633.3,99.6L638.2,96.3L641.5,93.8L644,95.4L644.9,102.9L649.8,101.2L656.4,99.6L663,98.7M593.7,111.1L591.2,117.7L590.4,124.3L592,130.9L594.5,135.9L596.2,139.2L593.7,144.1L592,145.8L600.3,146.6L608.5,145.8L616.8,144.1L620.9,139.2L626.7,134.2L631.6,131.7L635,127.6L636.6,121L639.9,117.7L643.2,112.8L644.9,107.8L646.5,104.5L649.8,102.9M592,145.8L595.4,149.9L599.5,154L600.3,157.0M654.8,89.7L658,84.7L663,81.4M656.4,116.1L661.4,116.9L663,119.4M575.5,55L580.5,62.4L587.1,61.6L592,58.3L594.5,55.0M203.2,195.3L222.5,195.3L222.5,185.1L227.9,184.2L227.9,167.7L244.4,167.2L244.4,157.0M244.4,160L263.4,173.5L270,178.0M263.4,173.5L255,173.5L257.1,198.3L259.4,224.5L260.1,229.6L245.2,230L230.4,229.6L228.8,234.6L227.9,239.5L229.6,244.5L230.4,249.4L232.9,254.4L233.7,259.0M207.3,224.7L215.6,223.8L220.5,226.3L225.4,229.6L229.6,232.1M204.3,242L210.6,241.5L215.6,242.8L220.5,242L221.3,243.7L215.6,244.5L210.6,243.7L204.8,244.1M205.3,249.4L212.2,248.6L220.5,249.4L223.8,251.9L230.4,252.7M207.6,256L212.2,255.2L215.6,256.9L217.2,259.0M223,156.8L244.5,157.5L244.5,151.5L250,147L254,145L260,143L264,140L270,137.0M269,177.6L278.9,186.7L288.8,195L298.7,204L302.8,206.5L304.5,209L309.4,208.2L318.5,201.6L328.4,194.1L338.3,187.5L348.2,181.8L346.6,177.6L341.6,176L339.1,172.7L336.6,166.9L335,165.3L337.5,160.3L336.6,157.0M304.5,209L308.6,211.5L308.6,223L306.9,228L302,231.3L295.4,232.9L288.8,234.6L285.5,233.7L280.6,234.6L275.6,237.9L272.3,241.2L269,244.5M348.2,181.8L353.1,183.4L358.9,186.7L363.1,185.1L368,182.6L377.9,188.4L387.8,194.1L397.7,199.9L401,201.6M363.1,185.1L363.9,190L366.4,196.6L367.2,201.6L366.4,211.5L364.7,219.7L361.4,226.3L358.1,231.3L354.8,237.9L354,241.2L356.4,242.8L358.1,246.1L359.8,249.4L358.9,251.9L361.4,256L360.6,259.0M306.9,259L306.1,251.1L308.6,243.7L313.6,241.2L318.5,242.8L323.4,243.7L330.1,242L336.6,243.7L343.2,244.5L349.9,242.8L354,241.2M285.5,233.7L288.8,237.9L292.1,242.8L295.4,247L300.4,249.4L304.5,251.9L306.1,254.4M272.3,256.9L282.2,256L292.1,257.7L300.4,256L302.8,252.4M396.9,246.1L398.5,249.4L397.7,254.4L399.4,259.0M412.4,157L412.4,191.7L412.4,203.2L407.4,204L407.4,228L402.5,229.6L400.8,239.5L400,242.8M412.4,191.7L470.9,191.7M454.4,192.5L456.9,190.8L462.7,186.7L466,185.9M478.4,214.8L474.2,219.7L471.8,224.7L470.1,232.9L467.6,239.5L466,246.1L463.5,251.1L461.1,259.0M501,226.3L503.1,220.5L505.6,218.9L509.7,219.7M442.6,194.1L445.4,190L449.5,185.9L451.1,180.1L452.5,179.3L452.5,183.4L450.3,187.5L446.2,191.7L442.6,194.1M472.6,251.4L473.9,249.8L475.6,250.3L475.9,252.4L474.2,253.7L472.8,253.1L472.6,251.4M399.2,201.2L407.4,204.0M546.7,209.8L549.1,216.4L551.6,222.2M602,157L598.6,162L596.2,166.9L597,171.9M636.6,157L634.1,163.6L638.2,166.9L640.7,171.9L636.6,175.2L630,178.5L628.4,180.9M631.6,190L636.6,187.5L639.1,185.9M223,266.4L227.1,263.6L232.1,265.3L235,270.6L234,275.5L230.4,279.6L228.4,280.8M234.5,275.5L237,273L240.3,275.5L241.9,280.5L245.2,279.6L246.1,285.4L249.4,288.7L250.2,296.6M246.9,259L247.7,264L250.2,268.9L248.6,273.9L245.6,279.6M272.3,259L273.1,268.9L271.5,278.8L272.3,287.1L273.1,292.8M288.5,259L289.6,267.3L288.8,275.5L290.4,282.1L291.3,288.7M293.8,259L294.6,268.9L295.4,278.8L296.2,286.2M310.2,259L306.9,265.6L304.5,272.2L304,283.8M354.8,259L351.5,268.9L348.2,277.2L343.2,282.1L338.3,282.1L333.4,287.1L332.5,296.1M363.1,259L359.8,265.6L363.9,272.2L364.7,277.2L374.6,275.5L382.9,270.6L391.1,265.6L401,262.3M364.7,277.2L361.4,283.8L360.6,292L363.1,300.3L368,306.9L370.5,310.2L371.3,303.6L377.9,300.3L381.2,295.3L387.8,292.8L396.1,296.1L401,297.8M337,310.5L344.9,310.5L344.9,316.8L337,317.1M344.9,311L354.8,311L368,311.5L370.5,310.2M354.8,311.5L354,316.8L358.9,319.2L358.1,325L360.6,331.6L358.9,336.6L353.1,338.2L346.6,336.6L345.7,341.5L348.2,346.5L346.9,349.0M381.2,295.3L379.6,308.5L377.1,321.7L374.6,328.3L369.6,334.9L368,341.5L366.4,348.1L359.8,351.4L354.8,353.1L349.9,353.9M349,358L354.8,358.9L361.4,358L368,358.9L371.3,361.0M278.9,270.6L282.2,269.7L285.5,273.9L288,278.8L289.6,283.8L288,283.8L285.5,278.8L283,275.5L279.7,273L278.9,270.6M400,296.1L406.6,292.8L413.2,292L419.8,290.4L423.1,290.4M404.9,259L406.6,268.9L414.9,278.8L423.1,290.4L429.7,296.1L435.5,295.3L440.4,301.9L446.2,301.1L454.4,299.4L458.6,296.1L465.2,293.7L469.3,296.1L475.9,298.6L482.5,301.9L489.9,297.8L499,296.1L507.2,294.5L512.2,293.7M459.4,259L457.8,265.6L456.9,272.2L452.8,274.7L456.1,278.8L461.1,285.4L465.2,293.7M495.7,331.1L492.4,328.3L491.9,306.9L499,298.6L512.2,293.7L518.8,283.8L527.9,276.3L525.4,275.5L518.8,273.9L512.2,271.4L507.2,268.1L503.9,264L500.6,259.0M458.6,296.1L461.1,303.6L462.7,310.2L461.9,316.8L459.4,323.4L458.6,329.6M440.4,301.9L441.2,308.5L439.6,315.1L437.1,321.7L435.5,330L447,329.6L458.6,329.6L466,334.1L474.2,341.5L479.2,348.1L482.5,350.6M435.5,330L440.4,333.3L441.2,338.2L438.8,343.2L435.5,344.8M447,324.2L451.1,321.7L455.3,322.5L457.8,325L458.6,330L456.9,334.9L452.8,336.6L448.7,337.4L446.2,333.3L446.2,328.3L447,324.2M466,296.1L468,300.3L469.3,305.2L470.6,308.5L469.3,308.5L467.6,303.6L466,299.4L466,296.1M433,338.2L435,338.2L436.6,344.8L437.3,351.4L437.9,361L435,361L434.3,351.4L433.7,344.8L433,338.2M439.6,315.1L442.1,311.8L444.6,309.3L445.4,311L442.6,314.3L440.4,317.6L439.6,315.1M371.3,361L372.9,366L374.6,370.9L384.5,370.1L385.3,365.1L391.1,365.1L396.1,367.6L396.9,377.5L397.7,385.8L401,390.7M346.9,426.2L351.5,425.4L356.4,427L364.7,427.8L377.9,427.8L382.9,430.3L391.9,432L401,430.3M391.9,432L392.4,455.1L388.6,455.9L388.1,463.0M397.7,401.4L397.7,418.8L401,422.9M400,389.1L407.4,389.1L407.4,400.6L400,400.6M407.4,389.1L414.9,390.7L421.4,392.4L423.1,389.1L424.8,394L433,399L435.5,402.3L435.5,396.5L431.4,394L429.7,387.4L430.5,379.2L433,374.2L437.9,373.4M441.2,373.9L447.9,376.7L452.8,378.3L453.6,385.8L454.4,392.4L452.8,399L453.6,405.6L456.1,408.9L449.5,408.9L439.6,412.2L439.6,416.3L449.5,417.9L452.8,420.4L453.6,430.3L452.8,438.6L449.5,446.8L446.2,455.1L439.6,456.7L431.4,456.7L427.2,453.4L423.1,445.2L418.1,436.9L413.2,430.3M400,423.7L404.9,430.3L413.2,430.3L421.4,430.3L426.4,425.4L433,418.8L439.6,416.3M460.2,405.6L461.9,410.5L466,413.8L465.2,420.4L463.5,425.4L461.1,420.4L459.4,413.8L456.1,408.9M461.9,391.5L469.3,392.4L477.6,390.7L484.1,388.2L489.9,385.8M431.4,456.7L428.1,460L426.4,463.0M447.9,453.4L447,463.0M454.4,378.3L456.4,378.8L458.4,385.8L459.6,394L460.6,402.3L460.1,405.9L458.9,401.4L457.9,393.2L456.6,385.8L455.1,380.8L454.4,378.3M433.8,361L437.9,362.7L440.4,367.6L442.1,373.4L440.4,374.2L437.9,369.3L434.6,364.3L433.8,361.0M446.2,367.6L449.5,370.9L451.1,374.2L449.5,373.4L447,370.1L446.2,367.6M563.7,448.8L565.3,448.1L566.6,449.8L565.6,451.4L564,451.1L563.7,448.8M573.6,443.9L575.2,442.9L576.2,444.5L575.2,446.2L573.9,445.8L573.6,443.9M387.8,463L388.1,472.9L387.8,484.5L387.5,492.7L384.5,495.2L379.6,495.2L374.6,492.7L372.1,493.5M388.1,472.9L391.1,477.9L391.9,483.6L401,482.8M400,477.9L404.9,474.6L411.6,476.2L416.5,472.1L421.4,467.1L425.6,463.0M447.9,463L448.2,471.3L447.5,478.2M447.9,480.8L452.5,479.8M423.1,498.5L427.2,495.2L432.2,496L434.3,500.1L432.2,503.4L427.2,505.1L423.9,502.6L423.1,498.5M442.1,478.7L445.4,477.9L447.9,480.3L447.5,484.5L444.6,486.1L442.1,483.6L442.1,478.7M398.6,257L401.4,256.4L405.2,260.2M401.4,256.4L400,262.2M303.1,67.5L297.5,67.5L291.2,66.9L285,65L280,63.5L275,63.1L268.8,62.8L262.5,62.2L256.2,61.9L250,61.2L247.5,61L243.8,62.5L241.2,64.8L241.9,66.9L243.8,68.8L243.8,71.9L244,76.2L243.5,81.2L242.5,85L240.6,88.8L240.2,91.9L241.9,92.5L242.8,91.2L243.1,93.8L242.5,97.5L243.1,100.6L246.9,101L250,100.2L251.9,101.2L255,103.1L256.9,105.6L258.8,107.5L260.6,108.5L262.5,108.1L266.2,105.6L271.2,103.8L277.5,101.9L280,99.4L283.1,97.5L285,96.9L286.2,92.5L287.5,91.2L286.2,87.5L287.5,84.4L290,81.2L292.5,78.8L295,77.5L298.8,75L302.5,72.5L303.8,70L303.1,67.5M250,100.2L250.6,97.5L251.9,95L251.2,91.9L252.5,89.4L251.9,86.2L253.1,83.8L254.4,80L255.6,77.5L258.1,75L258.8,73.8L255.6,71.9L243.8,71.2M281.9,55L280.6,59.4L280,63.5M269,244.4L264.4,247L259,252L260,258L257,262L248,262L247,259.0M257,262L263,265L270,264L272.2,256.8M233,254.4L240,251L244,252L246,258L247,259.4M206,252.6L209,251.8L212,253L210,254.6L207,254.2"/>
<path d="M144.6,92.3L146.6,92L147.6,93.3L145.9,94.0ZM150.5,91L152.5,90.7L153.2,92L151.2,92.3ZM158.1,96.3L162.4,96.3L162.8,97.6L158.8,97.9ZM201.5,126.5L204,126L206,127.3L203.3,128.3ZM204.8,125.3L206.3,125L206.3,126.0ZM306.9,83.1L309.4,83.1L309.4,84.4L306.9,84.4ZM293.8,89L296.1,89L296.1,91L293.8,91.0ZM358.9,107.5L360.6,107.5L360.6,108.8L358.9,108.8ZM347.5,102.5L348.7,102.5L348.7,103.7L347.5,103.7ZM340.8,121L342.4,121L342.4,122.7L340.8,122.7ZM287.1,75.6L290.4,75.1L290.4,76.5L287.5,76.8ZM273.9,79.8L275.3,79.4L275.6,81.4L274.3,81.7ZM453.6,89.7L456.1,89.3L456.4,93L454,93.3ZM442.1,94.6L445.4,94.9L445,97.9L442.4,97.6ZM499,91L505.6,90L505.9,93.3L499.7,94.3ZM513,94.6L515.5,94.9L515.8,100.4L513.5,99.9ZM512.2,79.8L515.5,80.1L515.2,82.2L512.5,81.9ZM502,117.7L503.9,117.7L504.3,121L502.3,121.0ZM503.9,126L506.4,126L506.4,128.4L504.3,128.4ZM515.5,79.8L518.8,79.8L518.8,81.1L515.8,81.1ZM423.9,103.7L426.1,104.2L425.6,106.2L424.1,105.5ZM403.3,81.4L404.9,81.1L405.3,83.1L403.6,83.4ZM408.2,84.7L409.9,84.4L410.2,86.4L408.6,86.7ZM404.9,89.7L406.9,89.3L407.3,91.3L405.3,91.6ZM411.6,93L413.5,92.6L413.9,94.6L411.9,94.9ZM403.3,97.1L405.3,96.8L405.6,98.7L403.6,99.1ZM409.9,99.6L411.9,99.2L412.2,101.2L410.2,101.5ZM415.7,97.9L417.3,97.6L417.7,99.6L416,99.9ZM416.5,90.5L418.5,90.2L418.8,92.1L416.8,92.5ZM406.6,102.9L408.6,102.5L408.9,104.5L406.9,104.8ZM414,104.5L416,104.2L416.3,106.2L414.4,106.5ZM419.8,107.8L421.4,107.5L421.8,109.1L420.1,109.5ZM439.6,145.8L441.2,145.4L441.6,147.1L439.9,147.4ZM626.7,76.5L630,76.1L630,77.8L627,78.1ZM636.6,81.4L639.1,81.1L639.1,82.4L636.9,82.7ZM161.6,220.5L163.2,220.5L163.6,222.2L161.9,222.5ZM166.1,223.7L168,223.7L168,225L166.1,225.0ZM172.7,222.4L174,222.4L174,223.7L172.7,223.7ZM173,226.3L174.6,226.3L174.6,228L173,228.0ZM171,231.6L173,231.6L172.7,233.6L171,233.6ZM168.5,232.6L170.3,232.6L170.3,234.2L168.5,234.2ZM164.1,233.3L166.9,233.3L166.9,234.6L164.1,234.6ZM197.5,150.7L199.2,150.5L199.4,152.2L197.8,152.5ZM196.5,156.4L198.2,156.2L198.4,158L196.8,158.2ZM201.5,154.2L203.2,154L203.4,155.6L201.8,155.8ZM204,152.8L207.2,152.4L207.5,155L204.5,155.5ZM208.5,155.2L210.4,155L210.6,157.2L208.8,157.5ZM215.5,155L217,151.5L219,147.5L220.5,147L220,149.5L218.2,153L216.8,155.5ZM496,222L497.7,222L497.7,223.7L496,223.7ZM486.5,229L488.1,229L488.1,230.6L486.5,230.6ZM515.2,233.3L516.8,233.3L517.5,237L515.8,237.0ZM466.3,233.3L467.6,233.3L467.6,234.9L466.3,234.9ZM458.9,253.9L460.2,253.9L460.2,255.5L458.9,255.5ZM553.3,247L558.2,246.6L559.9,248.6L554.9,249.4ZM547.2,249.9L548.5,249.9L548.5,251.1L547.2,251.1ZM551.1,250.7L552.5,250.7L552.5,251.9L551.1,251.9ZM580.5,199.1L582.1,199.1L582.5,201.6L580.8,201.6ZM539.6,165.6L540.9,165.6L540.9,167.2L539.6,167.2ZM648.8,190.8L651.5,190.5L651.5,192.5L649.1,192.8ZM259.8,274.7L261.1,274.7L261.4,281.3L260.1,281.3ZM377.9,332.4L379.2,332.4L379.9,337.4L378.6,337.4ZM384.5,312.1L387.8,311.5L387.8,312.8L384.8,313.5ZM391.9,310.8L394.4,310.5L394.4,311.8L392.1,312.1ZM330.4,301.1L332.5,300.6L332.2,304.4L330.1,304.4ZM323.8,312.6L325.1,312.6L325.1,314.3L323.8,314.3ZM319.5,321.1L321.1,321.1L321.1,323L319.5,323.0ZM315.2,331.1L316.4,331.1L316.4,332.3L315.2,332.3ZM336.3,322L337.3,322L337.3,323.4L336.3,323.4ZM337.6,328.7L339,328.7L339,330L337.6,330.0ZM437.1,322.5L438.3,321.7L438.8,325L437.3,325.8ZM449.5,312.6L454.4,311.8L455.3,313.8L450.3,314.8ZM475.9,283.8L477.6,283.4L477.9,285.7L476.2,286.2ZM473.4,327.5L476.7,327L476.9,328.7L473.8,329.1ZM461.1,344L465.2,343.5L465.3,345.2L461.4,345.8ZM402,311.5L403.3,311.2L403.6,312.8L402.3,313.1ZM484.8,352.3L486.1,352.3L486.3,355.6L485,355.6ZM434.3,331.6L435.6,331.3L436,334.3L434.6,334.6ZM563.2,349.3L565.6,348.6L566.5,351.1L564,351.8ZM651.8,273.2L653.1,273.2L653.1,274.5L651.8,274.5ZM652.3,282.4L653.4,282.4L653.4,283.8L652.3,283.8ZM653.4,302.9L654.6,302.9L654.6,304.4L653.4,304.4ZM653.1,308L654.1,308L654.1,309.3L653.1,309.3ZM215.2,370.2L216.5,370.2L216.5,371.6L215.2,371.6ZM258.3,418.1L259.6,418.1L259.6,419.4L258.3,419.4ZM434.6,388.2L437.1,388.7L436.6,392.4L434.6,391.7ZM418.5,374.5L420.5,374.5L420.5,376.2L418.5,376.2ZM503.3,391L504.9,391L504.9,393L503.3,393.0ZM505.3,394.3L506.9,394.3L506.9,396L505.3,396.0ZM508.6,396L510.2,396L510.2,397.6L508.6,397.6ZM512.5,399.3L514.2,399.3L514.2,400.9L512.5,400.9ZM518.1,378.8L520.1,378.8L520.1,380.5L518.1,380.5ZM603.1,440.9L604.3,440.9L604.3,442L603.1,442.0ZM568.1,365.5L569.1,365.5L569.1,366.4L568.1,366.4ZM569.3,384.9L570.3,384.9L570.3,385.9L569.3,385.9ZM648.5,366.8L649.6,366.8L649.6,367.9L648.5,367.9ZM225.6,544.9L226.9,544.9L226.9,546.2L225.6,546.2ZM415.7,488.1L419,487.4L419.3,489.4L416,490.2ZM428.1,484L430.2,483.6L430.5,485.8L428.4,486.1ZM410.6,502.6L412.2,502.6L412.5,504.3L410.9,504.3ZM414.9,505.9L416.5,505.9L416.5,507.6L414.9,507.6ZM267.9,66L268.8,66L268.8,66.8L267.9,66.8ZM269.8,66.6L270.6,66.6L270.6,67.4L269.8,67.4ZM273.8,80L275.6,79.8L275.9,81.6L274,81.9ZM258.1,84.4L261.9,84.1L261.9,85.4L258.4,85.6ZM260.6,88L263.8,87.5L264,89L260.9,89.5ZM271.9,95L274.4,94.8L274.4,96L272.1,96.2ZM286.2,75.2L290,74.8L290,76.5L286.5,76.9ZM258.4,73.4L259.4,73.4L259.4,74.4L258.4,74.4ZM309.8,256L311.2,256L311.4,264L310,264.0Z" fill="#000" stroke="#000" stroke-width="0.5" stroke-linejoin="round"/>
</g>
<rect x="137.5" y="54.5" width="525" height="508.5" fill="none" stroke="#000" stroke-width="1.5"/>
<path d="M133.5 83.8 H137.5" stroke="#000" stroke-width="1.2"/>
<text class="a" x="131" y="88.1" text-anchor="end">40N</text>
<path d="M133.5 143.74 H137.5" stroke="#000" stroke-width="1.2"/>
<text class="a" x="131" y="148.04" text-anchor="end">30N</text>
<path d="M133.5 203.68 H137.5" stroke="#000" stroke-width="1.2"/>
<text class="a" x="131" y="207.98" text-anchor="end">20N</text>
<path d="M133.5 263.62 H137.5" stroke="#000" stroke-width="1.2"/>
<text class="a" x="131" y="267.92" text-anchor="end">10N</text>
<path d="M133.5 323.56 H137.5" stroke="#000" stroke-width="1.2"/>
<text class="a" x="131" y="327.86" text-anchor="end">EQ</text>
<path d="M133.5 383.5 H137.5" stroke="#000" stroke-width="1.2"/>
<text class="a" x="131" y="387.8" text-anchor="end">10S</text>
<path d="M133.5 443.44 H137.5" stroke="#000" stroke-width="1.2"/>
<text class="a" x="131" y="447.74" text-anchor="end">20S</text>
<path d="M133.5 503.38 H137.5" stroke="#000" stroke-width="1.2"/>
<text class="a" x="131" y="507.68" text-anchor="end">30S</text>
<path d="M133.5 563.32 H137.5" stroke="#000" stroke-width="1.2"/>
<text class="a" x="131" y="567.62" text-anchor="end">40S</text>
<path d="M137.5 563 V567" stroke="#000" stroke-width="1.2"/>
<text class="a" x="137.5" y="577.5" text-anchor="middle">30W</text>
<path d="M187.5 563 V567" stroke="#000" stroke-width="1.2"/>
<text class="a" x="187.5" y="577.5" text-anchor="middle">20W</text>
<path d="M237.5 563 V567" stroke="#000" stroke-width="1.2"/>
<text class="a" x="237.5" y="577.5" text-anchor="middle">10W</text>
<path d="M287.5 563 V567" stroke="#000" stroke-width="1.2"/>
<text class="a" x="287.5" y="577.5" text-anchor="middle">0</text>
<path d="M337.5 563 V567" stroke="#000" stroke-width="1.2"/>
<text class="a" x="337.5" y="577.5" text-anchor="middle">10E</text>
<path d="M387.5 563 V567" stroke="#000" stroke-width="1.2"/>
<text class="a" x="387.5" y="577.5" text-anchor="middle">20E</text>
<path d="M437.5 563 V567" stroke="#000" stroke-width="1.2"/>
<text class="a" x="437.5" y="577.5" text-anchor="middle">30E</text>
<path d="M487.5 563 V567" stroke="#000" stroke-width="1.2"/>
<text class="a" x="487.5" y="577.5" text-anchor="middle">40E</text>
<path d="M537.5 563 V567" stroke="#000" stroke-width="1.2"/>
<text class="a" x="537.5" y="577.5" text-anchor="middle">50E</text>
<path d="M587.5 563 V567" stroke="#000" stroke-width="1.2"/>
<text class="a" x="587.5" y="577.5" text-anchor="middle">60E</text>
<path d="M637.5 563 V567" stroke="#000" stroke-width="1.2"/>
<text class="a" x="637.5" y="577.5" text-anchor="middle">70E</text>
<rect x="724" y="87.50" width="14.2" height="26.03" fill="#ff3200" stroke="#000" stroke-width="1.3"/>
<rect x="724" y="113.53" width="14.2" height="26.03" fill="#ff6000" stroke="#000" stroke-width="1.3"/>
<rect x="724" y="139.56" width="14.2" height="26.03" fill="#ffa000" stroke="#000" stroke-width="1.3"/>
<rect x="724" y="165.59" width="14.2" height="26.03" fill="#ffc03c" stroke="#000" stroke-width="1.3"/>
<rect x="724" y="191.62" width="14.2" height="26.03" fill="#ffe878" stroke="#000" stroke-width="1.3"/>
<rect x="724" y="217.65" width="14.2" height="26.03" fill="#fffaaa" stroke="#000" stroke-width="1.3"/>
<rect x="724" y="243.68" width="14.2" height="26.03" fill="#37d23c" stroke="#000" stroke-width="1.3"/>
<rect x="724" y="269.71" width="14.2" height="26.03" fill="#78f573" stroke="#000" stroke-width="1.3"/>
<rect x="724" y="295.74" width="14.2" height="26.03" fill="#b4faaa" stroke="#000" stroke-width="1.3"/>
<rect x="724" y="321.77" width="14.2" height="26.03" fill="#e1ffff" stroke="#000" stroke-width="1.3"/>
<rect x="724" y="347.80" width="14.2" height="26.03" fill="#96d2fa" stroke="#000" stroke-width="1.3"/>
<rect x="724" y="373.83" width="14.2" height="26.03" fill="#78b9fa" stroke="#000" stroke-width="1.3"/>
<rect x="724" y="399.86" width="14.2" height="26.03" fill="#50a5f5" stroke="#000" stroke-width="1.3"/>
<rect x="724" y="425.89" width="14.2" height="26.03" fill="#3c96f5" stroke="#000" stroke-width="1.3"/>
<rect x="724" y="451.92" width="14.2" height="26.03" fill="#2882f0" stroke="#000" stroke-width="1.3"/>
<rect x="724" y="477.95" width="14.2" height="26.03" fill="#1464d2" stroke="#000" stroke-width="1.3"/>
<rect x="724" y="503.98" width="14.2" height="26.03" fill="#141478" stroke="#000" stroke-width="1.3"/>
<path d="M724 87.5 L731.1 63 L738.2 87.5 Z" fill="#e11400" stroke="#000" stroke-width="1.3" stroke-linejoin="miter"/>
<path d="M724 530.01 L731.1 556 L738.2 530.01 Z" fill="#dcdcff" stroke="#000" stroke-width="1.3" stroke-linejoin="miter"/>
<text class="c" x="743" y="92.70">34</text>
<text class="c" x="743" y="118.73">32</text>
<text class="c" x="743" y="144.76">30</text>
<text class="c" x="743" y="170.79">28</text>
<text class="c" x="743" y="196.82">26</text>
<text class="c" x="743" y="222.85">24</text>
<text class="c" x="743" y="248.88">22</text>
<text class="c" x="743" y="274.91">20</text>
<text class="c" x="743" y="300.94">18</text>
<text class="c" x="743" y="326.97">16</text>
<text class="c" x="743" y="353.00">14</text>
<text class="c" x="743" y="379.03">12</text>
<text class="c" x="743" y="405.06">10</text>
<text class="c" x="743" y="431.09">8</text>
<text class="c" x="743" y="457.12">6</text>
<text class="c" x="743" y="483.15">4</text>
<text class="c" x="743" y="509.18">2</text>
<text class="c" x="743" y="535.21">0</text>
<text class="g" x="4" y="614">GrADS: IGES/COLA</text>
</svg></body></html>
